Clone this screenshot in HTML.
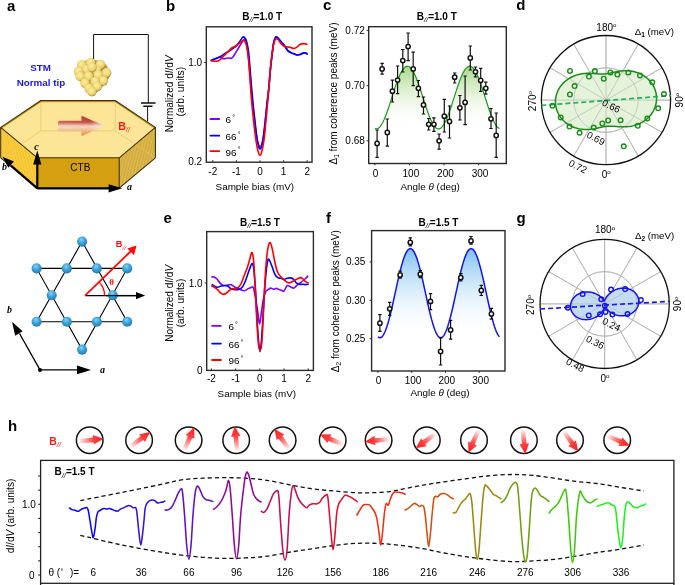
<!DOCTYPE html><html><head><meta charset="utf-8"><style>html,body{margin:0;padding:0;background:#fff;width:685px;height:585px;overflow:hidden}svg{display:block;will-change:transform}text{font-family:"Liberation Sans",sans-serif}</style></head><body>
<svg width="685" height="585" viewBox="0 0 685 585">
<defs>
<radialGradient id="gs" cx="0.45" cy="0.4" r="0.62" fx="0.42" fy="0.36"><stop offset="0" stop-color="#fbeea8"/><stop offset="0.55" stop-color="#f2da78"/><stop offset="0.8" stop-color="#e0c460"/><stop offset="0.93" stop-color="#b09438"/><stop offset="1" stop-color="#5e4812"/></radialGradient>
<radialGradient id="bs" cx="0.45" cy="0.35" r="0.7" fx="0.42" fy="0.3"><stop offset="0" stop-color="#8cd2f6"/><stop offset="0.45" stop-color="#3ea4dc"/><stop offset="0.8" stop-color="#2a88c0"/><stop offset="1" stop-color="#1a6496"/></radialGradient>
<linearGradient id="gfill" x1="0" y1="0" x2="0" y2="1"><stop offset="0" stop-color="#a8d888"/><stop offset="1" stop-color="#ffffff" stop-opacity="0"/></linearGradient>
<linearGradient id="bfill" x1="0" y1="0" x2="0" y2="1"><stop offset="0" stop-color="#7cc0f0"/><stop offset="1" stop-color="#ffffff" stop-opacity="0"/></linearGradient>
<linearGradient id="arr3d" x1="0" y1="0" x2="0" y2="1"><stop offset="0" stop-color="#b83024"/><stop offset="0.32" stop-color="#c85444"/><stop offset="0.48" stop-color="#eac4b8"/><stop offset="0.55" stop-color="#f4d4b8"/><stop offset="0.75" stop-color="#f0b27a"/><stop offset="1" stop-color="#e08a44"/></linearGradient>
<linearGradient id="arrfade" x1="0" y1="0" x2="1" y2="0"><stop offset="0" stop-color="#fff" stop-opacity="0.12"/><stop offset="0.7" stop-color="#fff" stop-opacity="0.0"/><stop offset="1" stop-color="#fce8d8" stop-opacity="0.7"/></linearGradient>
<linearGradient id="redarr" x1="0" y1="0" x2="1" y2="0"><stop offset="0" stop-color="#ff2020" stop-opacity="0"/><stop offset="0.6" stop-color="#ff2020" stop-opacity="0.85"/><stop offset="1" stop-color="#ff1a1a"/></linearGradient>
<pattern id="stripeL" width="2.8" height="4" patternUnits="userSpaceOnUse" patternTransform="rotate(-14)"><rect width="2.8" height="4" fill="#f5c22c"/><rect width="1.3" height="4" fill="#f9cf48"/></pattern>
<pattern id="stripeR" width="2.8" height="4" patternUnits="userSpaceOnUse" patternTransform="rotate(14)"><rect width="2.8" height="4" fill="#ddb94e"/><rect width="1.2" height="4" fill="#cfa83c"/></pattern>
</defs>
<rect width="685" height="585" fill="#fff"/>
<text x="6.9" y="10.6" font-size="15" font-weight="bold" fill="#000">a</text>
<text x="166" y="10.6" font-size="15" font-weight="bold" fill="#000">b</text>
<text x="322.9" y="9.9" font-size="15" font-weight="bold" fill="#000">c</text>
<text x="516.3" y="10.2" font-size="15" font-weight="bold" fill="#000">d</text>
<text x="163.6" y="223.2" font-size="15" font-weight="bold" fill="#000">e</text>
<text x="326.1" y="223.2" font-size="15" font-weight="bold" fill="#000">f</text>
<text x="516.4" y="222.6" font-size="15" font-weight="bold" fill="#000">g</text>
<text x="8" y="430.9" font-size="15" font-weight="bold" fill="#000">h</text>
<text x="40.6" y="70.6" font-size="9.8" font-weight="bold" fill="#1a1ae0" text-anchor="middle">STM</text>
<text x="40.9" y="86.3" font-size="9.8" font-weight="bold" fill="#1a1ae0" text-anchor="middle">Normal tip</text>
<path d="M93.6 63 V34.5 H148.3 V103 M147.6 106.3 V121.5" stroke="#111" stroke-width="1" fill="none"/>
<path d="M141 103 H155.6 M143.3 106.3 H152.5" stroke="#111" stroke-width="1.4" fill="none"/>
<path d="M0.7 127.4 L37.4 157.8 L37.4 188.2 L0.7 157.8Z" fill="url(#stripeL)"/>
<path d="M119.2 157.8 L155.4 127.4 L155.4 157.8 L119.2 188.2Z" fill="url(#stripeR)"/>
<path d="M37.4 157.8 L119.2 157.8 L119.2 188.2 L37.4 188.2Z" fill="#d4a012"/>
<path d="M40.9 100.5 L115.2 100.5 L155.4 127.4 L119.2 157.8 L37.4 157.8 L0.7 127.4Z" fill="#fde597"/>
<path d="M0.7 157.8 L40.9 130.9 L115.2 130.9 L155.4 157.8 M40.9 100.5 L40.9 130.9 M115.2 100.5 L115.2 130.9" stroke="#e2c36a" stroke-width="0.7" fill="none"/>
<path d="M0.7 128.5 L40.9 101.6 L115.2 101.6 L155.4 128.5" stroke="#c09018" stroke-width="1.2" fill="none" stroke-linejoin="round"/>
<path d="M40.9 100.5 L115.2 100.5 L155.4 127.4 L119.2 157.8 L37.4 157.8 L0.7 127.4Z M0.7 127.4 V157.8 M37.4 157.8 V188.2 M119.2 157.8 V188.2 M155.4 127.4 V157.8 M0.7 157.8 L37.4 188.2 L119.2 188.2 L155.4 157.8" stroke="#3a2a00" stroke-width="1.05" fill="none" stroke-linejoin="round"/>
<path d="M59.6 120.8 H81.5 V115.8 L104.5 125.8 L81.5 136.3 V131.3 H59.6 Q58 131.3 58 129.5 V122.6 Q58 120.8 59.6 120.8 Z" fill="url(#arr3d)"/>
<path d="M59.6 120.8 H81.5 V115.8 L104.5 125.8 L81.5 136.3 V131.3 H59.6 Q58 131.3 58 129.5 V122.6 Q58 120.8 59.6 120.8 Z" fill="url(#arrfade)"/>
<text x="118.3" y="129.8" font-size="10.7" font-weight="bold" fill="#ff1a1a">B<tspan font-size="6.8" font-style="italic" font-weight="normal" dy="1.9">//</tspan></text>
<text x="80.3" y="171.1" font-size="10" fill="#000" text-anchor="middle">CTB</text>
<path d="M37.3 188.3 V163" stroke="#000" stroke-width="2.2"/>
<path d="M33.2 164.4 L37.3 150.6 L41.4 164.4 Z" fill="#000"/>
<path d="M37.3 188.3 H110" stroke="#000" stroke-width="2.2"/>
<path d="M108.6 184.2 L122.2 188.3 L108.6 192.4 Z" fill="#000"/>
<path d="M37.3 188.3 L11 165.6" stroke="#000" stroke-width="2.2"/>
<path d="M13.9 161.5 L2.4 156.8 L8.4 167.8 Z" fill="#000"/>
<text x="36.4" y="150" font-size="10" font-style="italic" font-weight="bold" font-family="Liberation Serif, serif" fill="#000" text-anchor="middle" style="font-family:'Liberation Serif',serif">c</text>
<text x="4.6" y="170.2" font-size="10" font-style="italic" font-weight="bold" fill="#000" text-anchor="middle" style="font-family:'Liberation Serif',serif">b</text>
<text x="129.6" y="190" font-size="10" font-style="italic" font-weight="bold" fill="#000" text-anchor="middle" style="font-family:'Liberation Serif',serif">a</text>
<path d="M78 68 L80 63 L86 60.5 L95 60 L103 61.5 L107 66 L110 72 L109 78 L105 84 L100.5 89 L95.5 93.5 L91.5 95.5 L88 92.5 L84 87.5 L80.5 81.5 L77.5 76 Z" fill="#b89a3c"/>
<circle cx="81.6" cy="64.8" r="4.8" fill="url(#gs)"/>
<circle cx="90.6" cy="62.6" r="4.8" fill="url(#gs)"/>
<circle cx="100.5" cy="64.6" r="4.8" fill="url(#gs)"/>
<circle cx="86.5" cy="69.5" r="4.8" fill="url(#gs)"/>
<circle cx="96.5" cy="69.5" r="4.8" fill="url(#gs)"/>
<circle cx="92" cy="67.3" r="4.8" fill="url(#gs)"/>
<circle cx="78.5" cy="71.5" r="4.8" fill="url(#gs)"/>
<circle cx="106.6" cy="72.8" r="4.8" fill="url(#gs)"/>
<circle cx="80.2" cy="76.4" r="4.8" fill="url(#gs)"/>
<circle cx="98.3" cy="75" r="4.8" fill="url(#gs)"/>
<circle cx="88.5" cy="76.2" r="4.8" fill="url(#gs)"/>
<circle cx="103.2" cy="80.8" r="4.8" fill="url(#gs)"/>
<circle cx="85" cy="83" r="4.8" fill="url(#gs)"/>
<circle cx="95.1" cy="81.5" r="4.8" fill="url(#gs)"/>
<circle cx="97.1" cy="86.5" r="4.8" fill="url(#gs)"/>
<circle cx="88.9" cy="88.3" r="4.8" fill="url(#gs)"/>
<circle cx="91.7" cy="91.5" r="4.8" fill="url(#gs)"/>
<path d="M82.1 241.6 L36.6 321.8 L127.2 321.8 Z M36.6 268.4 L127.2 268.4 L82.1 349.6 Z" stroke="#000" stroke-width="1.1" fill="none"/>
<path d="M85 295.6 H137" stroke="#000" stroke-width="1.4"/>
<path d="M136 291.9 L145.2 295.6 L136 299.3 Z" fill="#000"/>
<circle cx="82.1" cy="241.6" r="5.05" fill="url(#bs)"/>
<circle cx="36.6" cy="268.4" r="5.05" fill="url(#bs)"/>
<circle cx="66.8" cy="268.4" r="5.05" fill="url(#bs)"/>
<circle cx="96.8" cy="268.4" r="5.05" fill="url(#bs)"/>
<circle cx="127.2" cy="268.4" r="5.05" fill="url(#bs)"/>
<circle cx="51.7" cy="295.3" r="5.05" fill="url(#bs)"/>
<circle cx="112.8" cy="295.3" r="5.05" fill="url(#bs)"/>
<circle cx="36.6" cy="321.8" r="5.05" fill="url(#bs)"/>
<circle cx="66.8" cy="321.8" r="5.05" fill="url(#bs)"/>
<circle cx="96.8" cy="321.8" r="5.05" fill="url(#bs)"/>
<circle cx="127.2" cy="321.8" r="5.05" fill="url(#bs)"/>
<circle cx="82.1" cy="349.6" r="5.05" fill="url(#bs)"/>
<path d="M106 295.6 H137" stroke="#000" stroke-width="1.4" opacity="0.85"/>
<path d="M85 295.6 L131 251" stroke="#ff0a0a" stroke-width="1.8"/>
<path d="M136.6 245.6 L134 255.3 L127.3 248.4 Z" fill="#ff0a0a"/>
<path d="M104.6 295.6 A19.6 19.6 0 0 0 99.22 282.11" stroke="#ff0a0a" stroke-width="1.4" fill="none"/>
<text x="111.7" y="285" font-size="9" font-weight="bold" fill="#ff0a0a" text-anchor="middle" style="font-family:'Liberation Serif',serif">θ</text>
<text x="115.8" y="247.4" font-size="9.2" font-weight="bold" fill="#ff0a0a">B<tspan font-size="6.2" font-style="italic" font-weight="normal" dy="2.4">//</tspan></text>
<circle cx="40" cy="369.9" r="2" fill="#000"/>
<path d="M40 369.9 H79" stroke="#000" stroke-width="1.3"/>
<path d="M77 365.5 L91 369.9 L77 374.3 Z" fill="#000"/>
<path d="M40 369.9 L19.5 333.5" stroke="#000" stroke-width="1.3"/>
<path d="M12 321.7 L22.6 331.3 L15.2 335.7 Z" fill="#000"/>
<text x="102.6" y="373" font-size="10" font-style="italic" font-weight="bold" fill="#000" text-anchor="middle" style="font-family:'Liberation Serif',serif">a</text>
<text x="9.6" y="313.4" font-size="10" font-style="italic" font-weight="bold" fill="#000" text-anchor="middle" style="font-family:'Liberation Serif',serif">b</text>
<path d="M210.6 60.8 C211.38 60.47 213.82 59.4 215.3 58.8 C216.78 58.2 218.23 57.23 219.5 57.2 C220.77 57.17 221.9 58.38 222.9 58.6 C223.9 58.82 224.55 58.6 225.5 58.5 C226.45 58.4 227.65 58.03 228.6 58 C229.55 57.97 230.43 58.52 231.2 58.3 C231.97 58.08 232.43 57.65 233.2 56.7 C233.97 55.75 234.87 54.13 235.8 52.6 C236.73 51.07 237.78 49.2 238.8 47.5 C239.82 45.8 241.12 43.68 241.9 42.4 C242.68 41.12 243.02 40.15 243.5 39.8 C243.98 39.45 244.33 39.68 244.8 40.3 C245.27 40.92 245.8 41.72 246.3 43.5 C246.8 45.28 247.3 47.25 247.8 51 C248.3 54.75 248.78 60.17 249.3 66 C249.82 71.83 250.35 79.67 250.9 86 C251.45 92.33 252.02 98.42 252.6 104 C253.18 109.58 253.8 114.58 254.4 119.5 C255 124.42 255.6 129.58 256.2 133.5 C256.8 137.42 257.35 140.78 258 143 C258.65 145.22 259.42 146.8 260.1 146.8 C260.78 146.8 261.47 145.22 262.1 143 C262.73 140.78 263.32 137.47 263.9 133.5 C264.48 129.53 265.05 124.28 265.6 119.2 C266.15 114.12 266.65 108.2 267.2 103 C267.75 97.8 268.35 93.67 268.9 88 C269.45 82.33 269.95 74.73 270.5 69 C271.05 63.27 271.65 58.1 272.2 53.6 C272.75 49.1 273.25 44.7 273.8 42 C274.35 39.3 274.95 38.2 275.5 37.4 C276.05 36.6 276.5 36.88 277.1 37.2 C277.7 37.52 278.33 38.43 279.1 39.3 C279.87 40.17 280.77 41.3 281.7 42.4 C282.63 43.5 283.68 44.53 284.7 45.9 C285.72 47.27 286.77 49.48 287.8 50.6 C288.83 51.72 289.87 52.07 290.9 52.6 C291.93 53.13 292.97 53.42 294 53.8 C295.03 54.18 296.08 54.78 297.1 54.9 C298.12 55.02 299.08 54.8 300.1 54.5 C301.12 54.2 302.25 53.33 303.2 53.1 C304.15 52.87 305.07 52.85 305.8 53.1 C306.53 53.35 307.3 54.35 307.6 54.6" stroke="#8000ff" stroke-width="1.6" fill="none" stroke-linejoin="round"/>
<path d="M210.6 60.8 C211.38 60.47 213.67 59.52 215.3 58.8 C216.93 58.08 218.7 57.45 220.4 56.5 C222.1 55.55 223.8 54.17 225.5 53.1 C227.2 52.03 228.88 51.2 230.6 50.1 C232.32 49 234.25 47.97 235.8 46.5 C237.35 45.03 238.7 42.88 239.9 41.3 C241.1 39.72 242.07 37.42 243 37 C243.93 36.58 244.82 37.73 245.5 38.8 C246.18 39.87 246.58 41.2 247.1 43.4 C247.62 45.6 248.1 47.73 248.6 52 C249.1 56.27 249.6 63 250.1 69 C250.6 75 251.08 82 251.6 88 C252.12 94 252.67 99.75 253.2 105 C253.73 110.25 254.25 114.58 254.8 119.5 C255.35 124.42 255.93 130.25 256.5 134.5 C257.07 138.75 257.6 142.6 258.2 145 C258.8 147.4 259.47 148.9 260.1 148.9 C260.73 148.9 261.4 147.4 262 145 C262.6 142.6 263.15 138.75 263.7 134.5 C264.25 130.25 264.75 124.75 265.3 119.5 C265.85 114.25 266.42 108.25 267 103 C267.58 97.75 268.23 93.67 268.8 88 C269.37 82.33 269.83 74.73 270.4 69 C270.97 63.27 271.63 58.1 272.2 53.6 C272.77 49.1 273.25 44.7 273.8 42 C274.35 39.3 274.95 38.2 275.5 37.4 C276.05 36.6 276.5 36.88 277.1 37.2 C277.7 37.52 278.33 38.43 279.1 39.3 C279.87 40.17 280.77 41.3 281.7 42.4 C282.63 43.5 283.68 44.53 284.7 45.9 C285.72 47.27 286.77 49.48 287.8 50.6 C288.83 51.72 289.87 52.07 290.9 52.6 C291.93 53.13 292.97 53.42 294 53.8 C295.03 54.18 296.08 54.78 297.1 54.9 C298.12 55.02 299.08 54.8 300.1 54.5 C301.12 54.2 302.25 53.33 303.2 53.1 C304.15 52.87 305.08 52.87 305.8 53.1 C306.52 53.33 307.22 54.27 307.5 54.5" stroke="#0000ff" stroke-width="1.6" fill="none" stroke-linejoin="round"/>
<path d="M211.2 60.6 C211.53 60.67 212.35 60.88 213.2 61 C214.05 61.12 215.27 61.42 216.3 61.3 C217.33 61.18 218.2 61.15 219.4 60.3 C220.6 59.45 222.13 57.57 223.5 56.2 C224.87 54.83 226.23 53.47 227.6 52.1 C228.97 50.73 230.52 48.93 231.7 48 C232.88 47.07 233.68 47.1 234.7 46.5 C235.72 45.9 236.77 45.12 237.8 44.4 C238.83 43.68 239.9 42.85 240.9 42.2 C241.9 41.55 243.03 40.47 243.8 40.5 C244.57 40.53 244.95 41.07 245.5 42.4 C246.05 43.73 246.58 45.43 247.1 48.5 C247.62 51.57 248.12 55.67 248.6 60.8 C249.08 65.93 249.53 72.98 250 79.3 C250.47 85.62 250.83 92.05 251.4 98.7 C251.97 105.35 252.72 112.83 253.4 119.2 C254.08 125.57 254.8 131.85 255.5 136.9 C256.2 141.95 256.85 146.42 257.6 149.5 C258.35 152.58 259.22 155.4 260 155.4 C260.78 155.4 261.57 152.58 262.3 149.5 C263.03 146.42 263.77 141.95 264.4 136.9 C265.03 131.85 265.5 125.57 266.1 119.2 C266.7 112.83 267.47 104.9 268 98.7 C268.53 92.5 268.88 87.12 269.3 82 C269.72 76.88 270.08 72.33 270.5 68 C270.92 63.67 271.33 59.67 271.8 56 C272.27 52.33 272.8 48.58 273.3 46 C273.8 43.42 274.27 41.7 274.8 40.5 C275.33 39.3 275.87 38.83 276.5 38.8 C277.13 38.77 277.82 39.45 278.6 40.3 C279.38 41.15 280.18 42.87 281.2 43.9 C282.22 44.93 283.6 45.98 284.7 46.5 C285.8 47.02 286.77 46.83 287.8 47 C288.83 47.17 289.87 47.25 290.9 47.5 C291.93 47.75 292.97 48.58 294 48.5 C295.03 48.42 296.08 47.68 297.1 47 C298.12 46.32 299.08 44.97 300.1 44.4 C301.12 43.83 302.33 43.68 303.2 43.6 C304.07 43.52 304.58 43.73 305.3 43.9 C306.02 44.07 307.13 44.48 307.5 44.6" stroke="#ff0000" stroke-width="1.6" fill="none" stroke-linejoin="round"/>
<rect x="206.3" y="26.8" width="105.7" height="135.4" fill="none" stroke="#2a2a2a" stroke-width="1.4"/>
<path d="M212.8 162.2 V160.2" stroke="#2a2a2a" stroke-width="1"/>
<text x="212.8" y="174.7" font-size="10" text-anchor="middle" fill="#000" >-2</text>
<path d="M236.4 162.2 V160.2" stroke="#2a2a2a" stroke-width="1"/>
<text x="236.4" y="174.7" font-size="10" text-anchor="middle" fill="#000" >-1</text>
<path d="M260 162.2 V160.2" stroke="#2a2a2a" stroke-width="1"/>
<text x="260" y="174.7" font-size="10" text-anchor="middle" fill="#000" >0</text>
<path d="M283.6 162.2 V160.2" stroke="#2a2a2a" stroke-width="1"/>
<text x="283.6" y="174.7" font-size="10" text-anchor="middle" fill="#000" >1</text>
<path d="M307.2 162.2 V160.2" stroke="#2a2a2a" stroke-width="1"/>
<text x="307.2" y="174.7" font-size="10" text-anchor="middle" fill="#000" >2</text>
<path d="M204.3 62.5 H206.3" stroke="#2a2a2a" stroke-width="1"/>
<text x="202.2" y="66" font-size="10" text-anchor="end" fill="#000" >1.0</text>
<text x="202.2" y="164.9" font-size="10" text-anchor="end" fill="#000" >0.2</text>
<text x="254.8" y="189.5" font-size="9.9" text-anchor="middle" fill="#000">Sample bias (mV)</text>
<text transform="translate(172.5 93.8) rotate(-90)" font-size="10" text-anchor="middle" fill="#000">Normalized d<tspan font-style="italic">I</tspan>/d<tspan font-style="italic">V</tspan></text>
<text transform="translate(184 91.7) rotate(-90)" font-size="10.4" text-anchor="middle" fill="#000">(arb. units)</text>
<text x="262.2" y="20" font-size="10" font-weight="bold" text-anchor="middle" fill="#000">B<tspan font-size="7.3" font-style="italic" font-weight="normal" dy="2.2">//</tspan><tspan dy="-2.2">=1.0 T</tspan></text>
<path d="M210.4 119 H219.2" stroke="#8000ff" stroke-width="1.8" stroke-linecap="round"/>
<text x="225.6" y="123.4" font-size="9.9" fill="#000">6<tspan font-size="7" dx="1.2" dy="-3.2">°</tspan></text>
<path d="M210.4 135.7 H219.2" stroke="#0000ff" stroke-width="1.8" stroke-linecap="round"/>
<text x="225.6" y="140.1" font-size="9.9" fill="#000">66<tspan font-size="7" dx="1.2" dy="-3.2">°</tspan></text>
<path d="M210.4 151.2 H219.2" stroke="#ff0000" stroke-width="1.8" stroke-linecap="round"/>
<text x="225.6" y="155.6" font-size="9.9" fill="#000">96<tspan font-size="7" dx="1.2" dy="-3.2">°</tspan></text>
<path d="M211.3 277.1 C211.77 277.07 213.15 276.58 214.1 276.9 C215.05 277.22 216.03 278 217 279 C217.97 280 218.93 281.85 219.9 282.9 C220.87 283.95 221.77 284.87 222.8 285.3 C223.83 285.73 225.07 285.58 226.1 285.5 C227.13 285.42 228.12 284.92 229 284.8 C229.88 284.68 230.53 284.48 231.4 284.8 C232.27 285.12 233.25 286.15 234.2 286.7 C235.15 287.25 236.05 287.62 237.1 288.1 C238.15 288.58 239.38 289.15 240.5 289.6 C241.62 290.05 242.85 290.72 243.8 290.8 C244.75 290.88 245.48 290.47 246.2 290.1 C246.92 289.73 247.47 288.97 248.1 288.6 C248.73 288.23 249.32 288.17 250 287.9 C250.68 287.63 251.6 286.95 252.2 287 C252.8 287.05 253.02 286.18 253.6 288.2 C254.18 290.22 255.02 295.2 255.7 299.1 C256.38 303 257.05 307.45 257.7 311.6 C258.35 315.75 258.97 324 259.6 324 C260.23 324 260.87 315.75 261.5 311.6 C262.13 307.45 262.68 302.45 263.4 299.1 C264.12 295.75 265 293.08 265.8 291.5 C266.6 289.92 267.4 290.17 268.2 289.6 C269 289.03 269.72 288.15 270.6 288.1 C271.48 288.05 272.55 289.25 273.5 289.3 C274.45 289.35 275.35 288.35 276.3 288.4 C277.25 288.45 278.32 289.28 279.2 289.6 C280.08 289.92 280.88 290.02 281.6 290.3 C282.32 290.58 282.87 291.58 283.5 291.3 C284.13 291.02 284.77 289.55 285.4 288.6 C286.03 287.65 286.5 285.92 287.3 285.6 C288.1 285.28 289.15 286.28 290.2 286.7 C291.25 287.12 292.63 288.18 293.6 288.1 C294.57 288.02 295.13 286.92 296 286.2 C296.87 285.48 297.68 284.67 298.8 283.8 C299.92 282.93 301.52 281.95 302.7 281 C303.88 280.05 304.97 278.98 305.9 278.1 C306.83 277.22 307.9 276.1 308.3 275.7" stroke="#8000ff" stroke-width="1.6" fill="none" stroke-linejoin="round"/>
<path d="M211.7 284.3 C212.18 284.63 213.63 285.8 214.6 286.3 C215.57 286.8 216.38 287.35 217.5 287.3 C218.62 287.25 220.03 286.3 221.3 286 C222.57 285.7 223.98 285.47 225.1 285.5 C226.22 285.53 227.03 285.68 228 286.2 C228.97 286.72 229.78 288.03 230.9 288.6 C232.02 289.17 233.43 289.43 234.7 289.6 C235.97 289.77 237.22 290.03 238.5 289.6 C239.78 289.17 241.28 288.35 242.4 287 C243.52 285.65 244.25 283.78 245.2 281.5 C246.15 279.22 247.22 275.78 248.1 273.3 C248.98 270.82 249.83 268.28 250.5 266.6 C251.17 264.92 251.62 263.2 252.1 263.2 C252.58 263.2 252.98 264.13 253.4 266.6 C253.82 269.07 254.22 273.6 254.6 278 C254.98 282.4 255.3 286.33 255.7 293 C256.1 299.67 256.53 310.17 257 318 C257.47 325.83 258 334.4 258.5 340 C259 345.6 259.5 351.6 260 351.6 C260.5 351.6 261.02 345.6 261.5 340 C261.98 334.4 262.47 325 262.9 318 C263.33 311 263.72 304 264.1 298 C264.48 292 264.78 287 265.2 282 C265.62 277 266.12 271.77 266.6 268 C267.08 264.23 267.53 260.52 268.1 259.4 C268.67 258.28 269.28 259.95 270 261.3 C270.72 262.65 271.6 265.35 272.4 267.5 C273.2 269.65 273.93 272.52 274.8 274.2 C275.67 275.88 276.57 276.92 277.6 277.6 C278.63 278.28 279.97 278.02 281 278.3 C282.03 278.58 282.85 279.28 283.8 279.3 C284.75 279.32 285.58 278.63 286.7 278.4 C287.82 278.17 289.3 277.72 290.5 277.9 C291.7 278.08 292.93 278.67 293.9 279.5 C294.87 280.33 295.42 282.1 296.3 282.9 C297.18 283.7 298.08 284.07 299.2 284.3 C300.32 284.53 301.88 284.25 303 284.3 C304.12 284.35 304.95 284.63 305.9 284.6 C306.85 284.57 308.23 284.18 308.7 284.1" stroke="#0000ff" stroke-width="1.6" fill="none" stroke-linejoin="round"/>
<path d="M211.3 285.7 C211.85 286 213.57 286.85 214.6 287.5 C215.63 288.15 216.53 288.7 217.5 289.6 C218.47 290.5 219.37 292.1 220.4 292.9 C221.43 293.7 222.67 294.4 223.7 294.4 C224.73 294.4 225.63 293.58 226.6 292.9 C227.57 292.22 228.55 290.98 229.5 290.3 C230.45 289.62 231.27 289.03 232.3 288.8 C233.33 288.57 234.67 289.15 235.7 288.9 C236.73 288.65 237.55 288.28 238.5 287.3 C239.45 286.32 240.43 285.02 241.4 283 C242.37 280.98 243.33 277.7 244.3 275.2 C245.27 272.7 246.32 270.55 247.2 268 C248.08 265.45 248.88 262.45 249.6 259.9 C250.32 257.35 250.95 253.43 251.5 252.7 C252.05 251.97 252.5 253.62 252.9 255.5 C253.3 257.38 253.58 259.92 253.9 264 C254.22 268.08 254.48 274 254.8 280 C255.12 286 255.45 293 255.8 300 C256.15 307 256.48 314.83 256.9 322 C257.32 329.17 257.77 338.23 258.3 343 C258.83 347.77 259.52 350.6 260.1 350.6 C260.68 350.6 261.32 347.77 261.8 343 C262.28 338.23 262.63 329.17 263 322 C263.37 314.83 263.68 306.67 264 300 C264.32 293.33 264.55 288 264.9 282 C265.25 276 265.65 269.33 266.1 264 C266.55 258.67 267.03 253.55 267.6 250 C268.17 246.45 268.87 243.45 269.5 242.7 C270.13 241.95 270.77 243.6 271.4 245.5 C272.03 247.4 272.67 251.07 273.3 254.1 C273.93 257.13 274.48 260.67 275.2 263.7 C275.92 266.73 276.63 270.07 277.6 272.3 C278.57 274.53 279.8 275.73 281 277.1 C282.2 278.47 283.45 279.53 284.8 280.5 C286.15 281.47 287.67 282.82 289.1 282.9 C290.53 282.98 292.05 281.65 293.4 281 C294.75 280.35 296 279.57 297.2 279 C298.4 278.43 299.63 277.6 300.6 277.6 C301.57 277.6 302.12 278.28 303 279 C303.88 279.72 304.95 281.18 305.9 281.9 C306.85 282.62 308.23 283.07 308.7 283.3" stroke="#ff0000" stroke-width="1.6" fill="none" stroke-linejoin="round"/>
<rect x="206.7" y="231.6" width="106.7" height="138.8" fill="none" stroke="#2a2a2a" stroke-width="1.4"/>
<path d="M211.4 370.4 V368.4" stroke="#2a2a2a" stroke-width="1"/>
<text x="211.4" y="381.7" font-size="10" text-anchor="middle" fill="#000" >-2</text>
<path d="M235.6 370.4 V368.4" stroke="#2a2a2a" stroke-width="1"/>
<text x="235.6" y="381.7" font-size="10" text-anchor="middle" fill="#000" >-1</text>
<path d="M259.8 370.4 V368.4" stroke="#2a2a2a" stroke-width="1"/>
<text x="259.8" y="381.7" font-size="10" text-anchor="middle" fill="#000" >0</text>
<path d="M284 370.4 V368.4" stroke="#2a2a2a" stroke-width="1"/>
<text x="284" y="381.7" font-size="10" text-anchor="middle" fill="#000" >1</text>
<path d="M308.2 370.4 V368.4" stroke="#2a2a2a" stroke-width="1"/>
<text x="308.2" y="381.7" font-size="10" text-anchor="middle" fill="#000" >2</text>
<path d="M204.7 283 H206.7" stroke="#2a2a2a" stroke-width="1"/>
<text x="202.6" y="286.5" font-size="10" text-anchor="end" fill="#000" >1.0</text>
<text x="202.6" y="373.5" font-size="10" text-anchor="end" fill="#000" >0</text>
<text x="256.8" y="396.6" font-size="9.9" text-anchor="middle" fill="#000">Sample bias (mV)</text>
<text transform="translate(172.5 303.3) rotate(-90)" font-size="10" text-anchor="middle" fill="#000">Normalized d<tspan font-style="italic">I</tspan>/d<tspan font-style="italic">V</tspan></text>
<text transform="translate(183.6 303) rotate(-90)" font-size="10.2" text-anchor="middle" fill="#000">(arb. units)</text>
<text x="259.9" y="226" font-size="10" font-weight="bold" text-anchor="middle" fill="#000">B<tspan font-size="7.3" font-style="italic" font-weight="normal" dy="2.2">//</tspan><tspan dy="-2.2">=1.5 T</tspan></text>
<path d="M212.1 325.8 H220.9" stroke="#8000ff" stroke-width="1.8" stroke-linecap="round"/>
<text x="228.4" y="330.2" font-size="9.9" fill="#000">6<tspan font-size="7" dx="1.2" dy="-3.2">°</tspan></text>
<path d="M212.1 343.6 H220.9" stroke="#0000ff" stroke-width="1.8" stroke-linecap="round"/>
<text x="228.4" y="348" font-size="9.9" fill="#000">66<tspan font-size="7" dx="1.2" dy="-3.2">°</tspan></text>
<path d="M212.1 360 H220.9" stroke="#ff0000" stroke-width="1.8" stroke-linecap="round"/>
<text x="228.4" y="364.4" font-size="9.9" fill="#000">96<tspan font-size="7" dx="1.2" dy="-3.2">°</tspan></text>
<path d="M374.9 129.5 L374.9 128.59 L375.94 128.88 L376.97 128.82 L378.01 128.42 L379.05 127.69 L380.09 126.62 L381.12 125.23 L382.16 123.54 L383.2 121.57 L384.24 119.33 L385.27 116.85 L386.31 114.16 L387.35 111.29 L388.39 108.27 L389.42 105.13 L390.46 101.91 L391.5 98.64 L392.54 95.36 L393.57 92.11 L394.61 88.91 L395.65 85.81 L396.69 82.83 L397.72 80.02 L398.76 77.4 L399.8 75 L400.83 72.85 L401.87 70.96 L402.91 69.37 L403.95 68.09 L404.98 67.13 L406.02 66.51 L407.06 66.22 L408.1 66.28 L409.13 66.68 L410.17 67.41 L411.21 68.48 L412.25 69.87 L413.28 71.56 L414.32 73.53 L415.36 75.77 L416.4 78.25 L417.43 80.94 L418.47 83.81 L419.51 86.83 L420.55 89.97 L421.58 93.19 L422.62 96.46 L423.66 99.74 L424.7 102.99 L425.73 106.19 L426.77 109.29 L427.81 112.27 L428.84 115.08 L429.88 117.7 L430.92 120.1 L431.96 122.25 L432.99 124.14 L434.03 125.73 L435.07 127.01 L436.11 127.97 L437.14 128.59 L438.18 128.88 L439.22 128.82 L440.26 128.42 L441.29 127.69 L442.33 126.62 L443.37 125.23 L444.41 123.54 L445.44 121.57 L446.48 119.33 L447.52 116.85 L448.56 114.16 L449.59 111.29 L450.63 108.27 L451.67 105.13 L452.7 101.91 L453.74 98.64 L454.78 95.36 L455.82 92.11 L456.85 88.91 L457.89 85.81 L458.93 82.83 L459.97 80.02 L461 77.4 L462.04 75 L463.08 72.85 L464.12 70.96 L465.15 69.37 L466.19 68.09 L467.23 67.13 L468.27 66.51 L469.3 66.22 L470.34 66.28 L471.38 66.68 L472.42 67.41 L473.45 68.48 L474.49 69.87 L475.53 71.56 L476.57 73.53 L477.6 75.77 L478.64 78.25 L479.68 80.94 L480.71 83.81 L481.75 86.83 L482.79 89.97 L483.83 93.19 L484.86 96.46 L485.9 99.74 L486.94 102.99 L487.98 106.19 L489.01 109.29 L490.05 112.27 L491.09 115.08 L492.13 117.7 L493.16 120.1 L494.2 122.25 L495.24 124.14 L496.28 125.73 L497.31 127.01 L498.35 127.97 L499.39 128.59 L499.39 129.5Z" fill="url(#gfill)"/>
<path d="M374.9 128.59 L375.94 128.88 L376.97 128.82 L378.01 128.42 L379.05 127.69 L380.09 126.62 L381.12 125.23 L382.16 123.54 L383.2 121.57 L384.24 119.33 L385.27 116.85 L386.31 114.16 L387.35 111.29 L388.39 108.27 L389.42 105.13 L390.46 101.91 L391.5 98.64 L392.54 95.36 L393.57 92.11 L394.61 88.91 L395.65 85.81 L396.69 82.83 L397.72 80.02 L398.76 77.4 L399.8 75 L400.83 72.85 L401.87 70.96 L402.91 69.37 L403.95 68.09 L404.98 67.13 L406.02 66.51 L407.06 66.22 L408.1 66.28 L409.13 66.68 L410.17 67.41 L411.21 68.48 L412.25 69.87 L413.28 71.56 L414.32 73.53 L415.36 75.77 L416.4 78.25 L417.43 80.94 L418.47 83.81 L419.51 86.83 L420.55 89.97 L421.58 93.19 L422.62 96.46 L423.66 99.74 L424.7 102.99 L425.73 106.19 L426.77 109.29 L427.81 112.27 L428.84 115.08 L429.88 117.7 L430.92 120.1 L431.96 122.25 L432.99 124.14 L434.03 125.73 L435.07 127.01 L436.11 127.97 L437.14 128.59 L438.18 128.88 L439.22 128.82 L440.26 128.42 L441.29 127.69 L442.33 126.62 L443.37 125.23 L444.41 123.54 L445.44 121.57 L446.48 119.33 L447.52 116.85 L448.56 114.16 L449.59 111.29 L450.63 108.27 L451.67 105.13 L452.7 101.91 L453.74 98.64 L454.78 95.36 L455.82 92.11 L456.85 88.91 L457.89 85.81 L458.93 82.83 L459.97 80.02 L461 77.4 L462.04 75 L463.08 72.85 L464.12 70.96 L465.15 69.37 L466.19 68.09 L467.23 67.13 L468.27 66.51 L469.3 66.22 L470.34 66.28 L471.38 66.68 L472.42 67.41 L473.45 68.48 L474.49 69.87 L475.53 71.56 L476.57 73.53 L477.6 75.77 L478.64 78.25 L479.68 80.94 L480.71 83.81 L481.75 86.83 L482.79 89.97 L483.83 93.19 L484.86 96.46 L485.9 99.74 L486.94 102.99 L487.98 106.19 L489.01 109.29 L490.05 112.27 L491.09 115.08 L492.13 117.7 L493.16 120.1 L494.2 122.25 L495.24 124.14 L496.28 125.73 L497.31 127.01 L498.35 127.97 L499.39 128.59" stroke="#1e9a1e" stroke-width="1.2" fill="none"/>
<path d="M377.1 130 V141.35 M375.4 130 H378.8 M377.1 145.65 V157.3 M375.4 157.3 H378.8 M382.1 63.4 V66.85 M380.4 63.4 H383.8 M382.1 71.15 V74.2 M380.4 74.2 H383.8 M387.3 119 V130.35 M385.6 119 H389 M387.3 134.65 V146.2 M385.6 146.2 H389 M392.4 80.1 V89.05 M390.7 80.1 H394.1 M392.4 93.35 V102 M390.7 102 H394.1 M397.6 66 V77.95 M395.9 66 H399.3 M397.6 82.25 V93.6 M395.9 93.6 H399.3 M402.8 49.5 V58.45 M401.1 49.5 H404.5 M402.8 62.75 V72 M401.1 72 H404.5 M408.1 33 V44.45 M406.4 33 H409.8 M408.1 48.75 V60.6 M406.4 60.6 H409.8 M413.2 52.2 V66.75 M411.5 52.2 H414.9 M413.2 71.05 V85.7 M411.5 85.7 H414.9 M418.4 80.5 V86.15 M416.7 80.5 H420.1 M418.4 90.45 V96.6 M416.7 96.6 H420.1 M423.5 97 V102.85 M421.8 97 H425.2 M423.5 107.15 V114 M421.8 114 H425.2 M428.7 118.5 V122.15 M427 118.5 H430.4 M428.7 126.45 V130 M427 130 H430.4 M433.9 117.8 V122.15 M432.2 117.8 H435.6 M433.9 126.45 V131.3 M432.2 131.3 H435.6 M439.1 134 V138.65 M437.4 134 H440.8 M439.1 142.95 V149.2 M437.4 149.2 H440.8 M444.3 99.3 V114.05 M442.6 99.3 H446 M444.3 118.35 V132 M442.6 132 H446 M449.5 106 V119.35 M447.8 106 H451.2 M449.5 123.65 V138 M447.8 138 H451.2 M454.7 73 V75.05 M453 73 H456.4 M454.7 79.35 V83 M453 83 H456.4 M459.9 95.5 V105.65 M458.2 95.5 H461.6 M459.9 109.95 V120 M458.2 120 H461.6 M465.1 76 V100.25 M463.4 76 H466.8 M465.1 104.55 V124.6 M463.4 124.6 H466.8 M470.3 46 V55.85 M468.6 46 H472 M470.3 60.15 V70 M468.6 70 H472 M475.5 67 V69.65 M473.8 67 H477.2 M475.5 73.95 V76.8 M473.8 76.8 H477.2 M480.7 68.4 V78.25 M479 68.4 H482.4 M480.7 82.55 V91.4 M479 91.4 H482.4 M485.8 82.2 V86.15 M484.1 82.2 H487.5 M485.8 90.45 V94.2 M484.1 94.2 H487.5 M491 108.5 V116.65 M489.3 108.5 H492.7 M491 120.95 V128.5 M489.3 128.5 H492.7 M496.2 113 V133.35 M494.5 113 H497.9 M496.2 137.65 V157.3 M494.5 157.3 H497.9 " stroke="#111" stroke-width="1.2" fill="none"/>
<circle cx="377.1" cy="143.5" r="2.15" fill="#fff" stroke="#111" stroke-width="1.5"/>
<circle cx="382.1" cy="69" r="2.15" fill="#fff" stroke="#111" stroke-width="1.5"/>
<circle cx="387.3" cy="132.5" r="2.15" fill="#fff" stroke="#111" stroke-width="1.5"/>
<circle cx="392.4" cy="91.2" r="2.15" fill="#fff" stroke="#111" stroke-width="1.5"/>
<circle cx="397.6" cy="80.1" r="2.15" fill="#fff" stroke="#111" stroke-width="1.5"/>
<circle cx="402.8" cy="60.6" r="2.15" fill="#fff" stroke="#111" stroke-width="1.5"/>
<circle cx="408.1" cy="46.6" r="2.15" fill="#fff" stroke="#111" stroke-width="1.5"/>
<circle cx="413.2" cy="68.9" r="2.15" fill="#fff" stroke="#111" stroke-width="1.5"/>
<circle cx="418.4" cy="88.3" r="2.15" fill="#fff" stroke="#111" stroke-width="1.5"/>
<circle cx="423.5" cy="105" r="2.15" fill="#fff" stroke="#111" stroke-width="1.5"/>
<circle cx="428.7" cy="124.3" r="2.15" fill="#fff" stroke="#111" stroke-width="1.5"/>
<circle cx="433.9" cy="124.3" r="2.15" fill="#fff" stroke="#111" stroke-width="1.5"/>
<circle cx="439.1" cy="140.8" r="2.15" fill="#fff" stroke="#111" stroke-width="1.5"/>
<circle cx="444.3" cy="116.2" r="2.15" fill="#fff" stroke="#111" stroke-width="1.5"/>
<circle cx="449.5" cy="121.5" r="2.15" fill="#fff" stroke="#111" stroke-width="1.5"/>
<circle cx="454.7" cy="77.2" r="2.15" fill="#fff" stroke="#111" stroke-width="1.5"/>
<circle cx="459.9" cy="107.8" r="2.15" fill="#fff" stroke="#111" stroke-width="1.5"/>
<circle cx="465.1" cy="102.4" r="2.15" fill="#fff" stroke="#111" stroke-width="1.5"/>
<circle cx="470.3" cy="58" r="2.15" fill="#fff" stroke="#111" stroke-width="1.5"/>
<circle cx="475.5" cy="71.8" r="2.15" fill="#fff" stroke="#111" stroke-width="1.5"/>
<circle cx="480.7" cy="80.4" r="2.15" fill="#fff" stroke="#111" stroke-width="1.5"/>
<circle cx="485.8" cy="88.3" r="2.15" fill="#fff" stroke="#111" stroke-width="1.5"/>
<circle cx="491" cy="118.8" r="2.15" fill="#fff" stroke="#111" stroke-width="1.5"/>
<circle cx="496.2" cy="135.5" r="2.15" fill="#fff" stroke="#111" stroke-width="1.5"/>
<rect x="368.7" y="26.7" width="137.6" height="136.8" fill="none" stroke="#2a2a2a" stroke-width="1.4"/>
<path d="M366.7 30.4 H368.7" stroke="#2a2a2a" stroke-width="1"/>
<text x="364.8" y="33.8" font-size="10" text-anchor="end" fill="#000" >0.72</text>
<path d="M366.7 85.6 H368.7" stroke="#2a2a2a" stroke-width="1"/>
<text x="364.8" y="89" font-size="10" text-anchor="end" fill="#000" >0.70</text>
<path d="M366.7 140.8 H368.7" stroke="#2a2a2a" stroke-width="1"/>
<text x="364.8" y="144.2" font-size="10" text-anchor="end" fill="#000" >0.68</text>
<path d="M374.9 163.5 V165.3" stroke="#2a2a2a" stroke-width="1"/>
<text x="375.5" y="176.6" font-size="10" text-anchor="middle" fill="#000" >0</text>
<path d="M409.48 163.5 V165.3" stroke="#2a2a2a" stroke-width="1"/>
<text x="410.88" y="176.6" font-size="10" text-anchor="middle" fill="#000" >100</text>
<path d="M444.06 163.5 V165.3" stroke="#2a2a2a" stroke-width="1"/>
<text x="445.46" y="176.6" font-size="10" text-anchor="middle" fill="#000" >200</text>
<path d="M478.64 163.5 V165.3" stroke="#2a2a2a" stroke-width="1"/>
<text x="480.04" y="176.6" font-size="10" text-anchor="middle" fill="#000" >300</text>
<text x="430.1" y="189.8" font-size="9.9" text-anchor="middle" fill="#000">Angle <tspan font-style="italic">θ</tspan> (deg)</text>
<text transform="translate(337.2 93.5) rotate(-90)" font-size="10" text-anchor="middle" fill="#000">Δ<tspan font-size="6.5" dy="2">1</tspan><tspan dy="-2"> from coherence peaks (meV)</tspan></text>
<text x="436.8" y="19.9" font-size="10" font-weight="bold" text-anchor="middle" fill="#000">B<tspan font-size="7.3" font-style="italic" font-weight="normal" dy="2.2">//</tspan><tspan dy="-2.2">=1.0 T</tspan></text>
<path d="M377.9 338 L377.9 336.83 L378.91 337.56 L379.93 337.8 L380.94 337.56 L381.95 336.83 L382.97 335.62 L383.98 333.94 L384.99 331.82 L386 329.28 L387.02 326.34 L388.03 323.04 L389.04 319.42 L390.06 315.5 L391.07 311.34 L392.08 306.98 L393.1 302.47 L394.11 297.86 L395.12 293.2 L396.14 288.54 L397.15 283.93 L398.16 279.42 L399.18 275.06 L400.19 270.9 L401.2 266.98 L402.21 263.36 L403.23 260.06 L404.24 257.12 L405.25 254.58 L406.27 252.46 L407.28 250.78 L408.29 249.57 L409.31 248.84 L410.32 248.6 L411.33 248.84 L412.35 249.57 L413.36 250.78 L414.37 252.46 L415.38 254.58 L416.4 257.12 L417.41 260.06 L418.42 263.36 L419.44 266.98 L420.45 270.9 L421.46 275.06 L422.48 279.42 L423.49 283.93 L424.5 288.54 L425.52 293.2 L426.53 297.86 L427.54 302.47 L428.55 306.98 L429.57 311.34 L430.58 315.5 L431.59 319.42 L432.61 323.04 L433.62 326.34 L434.63 329.28 L435.65 331.82 L436.66 333.94 L437.67 335.62 L438.69 336.83 L439.7 337.56 L440.71 337.8 L441.73 337.56 L442.74 336.83 L443.75 335.62 L444.76 333.94 L445.78 331.82 L446.79 329.28 L447.8 326.34 L448.82 323.04 L449.83 319.42 L450.84 315.5 L451.86 311.34 L452.87 306.98 L453.88 302.47 L454.9 297.86 L455.91 293.2 L456.92 288.54 L457.93 283.93 L458.95 279.42 L459.96 275.06 L460.97 270.9 L461.99 266.98 L463 263.36 L464.01 260.06 L465.03 257.12 L466.04 254.58 L467.05 252.46 L468.07 250.78 L469.08 249.57 L470.09 248.84 L471.11 248.6 L472.12 248.84 L473.13 249.57 L474.14 250.78 L475.16 252.46 L476.17 254.58 L477.18 257.12 L478.2 260.06 L479.21 263.36 L480.22 266.98 L481.24 270.9 L482.25 275.06 L483.26 279.42 L484.28 283.93 L485.29 288.54 L486.3 293.2 L487.31 297.86 L488.33 302.47 L489.34 306.98 L490.35 311.34 L491.37 315.5 L492.38 319.42 L493.39 323.04 L494.41 326.34 L495.42 329.28 L496.43 331.82 L497.45 333.94 L498.46 335.62 L499.47 336.83 L499.47 338Z" fill="url(#bfill)"/>
<path d="M377.9 336.83 L378.91 337.56 L379.93 337.8 L380.94 337.56 L381.95 336.83 L382.97 335.62 L383.98 333.94 L384.99 331.82 L386 329.28 L387.02 326.34 L388.03 323.04 L389.04 319.42 L390.06 315.5 L391.07 311.34 L392.08 306.98 L393.1 302.47 L394.11 297.86 L395.12 293.2 L396.14 288.54 L397.15 283.93 L398.16 279.42 L399.18 275.06 L400.19 270.9 L401.2 266.98 L402.21 263.36 L403.23 260.06 L404.24 257.12 L405.25 254.58 L406.27 252.46 L407.28 250.78 L408.29 249.57 L409.31 248.84 L410.32 248.6 L411.33 248.84 L412.35 249.57 L413.36 250.78 L414.37 252.46 L415.38 254.58 L416.4 257.12 L417.41 260.06 L418.42 263.36 L419.44 266.98 L420.45 270.9 L421.46 275.06 L422.48 279.42 L423.49 283.93 L424.5 288.54 L425.52 293.2 L426.53 297.86 L427.54 302.47 L428.55 306.98 L429.57 311.34 L430.58 315.5 L431.59 319.42 L432.61 323.04 L433.62 326.34 L434.63 329.28 L435.65 331.82 L436.66 333.94 L437.67 335.62 L438.69 336.83 L439.7 337.56 L440.71 337.8 L441.73 337.56 L442.74 336.83 L443.75 335.62 L444.76 333.94 L445.78 331.82 L446.79 329.28 L447.8 326.34 L448.82 323.04 L449.83 319.42 L450.84 315.5 L451.86 311.34 L452.87 306.98 L453.88 302.47 L454.9 297.86 L455.91 293.2 L456.92 288.54 L457.93 283.93 L458.95 279.42 L459.96 275.06 L460.97 270.9 L461.99 266.98 L463 263.36 L464.01 260.06 L465.03 257.12 L466.04 254.58 L467.05 252.46 L468.07 250.78 L469.08 249.57 L470.09 248.84 L471.11 248.6 L472.12 248.84 L473.13 249.57 L474.14 250.78 L475.16 252.46 L476.17 254.58 L477.18 257.12 L478.2 260.06 L479.21 263.36 L480.22 266.98 L481.24 270.9 L482.25 275.06 L483.26 279.42 L484.28 283.93 L485.29 288.54 L486.3 293.2 L487.31 297.86 L488.33 302.47 L489.34 306.98 L490.35 311.34 L491.37 315.5 L492.38 319.42 L493.39 323.04 L494.41 326.34 L495.42 329.28 L496.43 331.82 L497.45 333.94 L498.46 335.62 L499.47 336.83" stroke="#1414f0" stroke-width="1.5" fill="none"/>
<path d="M379.9 314.7 V321.05 M378.2 314.7 H381.6 M379.9 325.35 V331.4 M378.2 331.4 H381.6 M389.7 302.4 V306.65 M388 302.4 H391.4 M389.7 310.95 V315.3 M388 315.3 H391.4 M400.1 271.2 V272.85 M398.4 271.2 H401.8 M400.1 277.15 V278.1 M398.4 278.1 H401.8 M410.3 237.8 V240.25 M408.6 237.8 H412 M410.3 244.55 V245.9 M408.6 245.9 H412 M420.3 270.6 V272.05 M418.6 270.6 H422 M420.3 276.35 V277.6 M418.6 277.6 H422 M430.5 293.7 V299.25 M428.8 293.7 H432.2 M430.5 303.55 V309.6 M428.8 309.6 H432.2 M440.6 337.8 V349.35 M438.9 337.8 H442.3 M440.6 353.65 V365 M438.9 365 H442.3 M450.6 320.4 V327.85 M448.9 320.4 H452.3 M450.6 332.15 V339.1 M448.9 339.1 H452.3 M460.8 273.7 V275.45 M459.1 273.7 H462.5 M460.8 279.75 V280.9 M459.1 280.9 H462.5 M471 236.5 V238.75 M469.3 236.5 H472.7 M471 243.05 V244.2 M469.3 244.2 H472.7 M481.3 285.3 V288.25 M479.6 285.3 H483 M481.3 292.55 V295.5 M479.6 295.5 H483 M491.4 308.3 V311.85 M489.7 308.3 H493.1 M491.4 316.15 V319.1 M489.7 319.1 H493.1 " stroke="#111" stroke-width="1.2" fill="none"/>
<circle cx="379.9" cy="323.2" r="2.15" fill="#fff" stroke="#111" stroke-width="1.5"/>
<circle cx="389.7" cy="308.8" r="2.15" fill="#fff" stroke="#111" stroke-width="1.5"/>
<circle cx="400.1" cy="275" r="2.15" fill="#fff" stroke="#111" stroke-width="1.5"/>
<circle cx="410.3" cy="242.4" r="2.15" fill="#fff" stroke="#111" stroke-width="1.5"/>
<circle cx="420.3" cy="274.2" r="2.15" fill="#fff" stroke="#111" stroke-width="1.5"/>
<circle cx="430.5" cy="301.4" r="2.15" fill="#fff" stroke="#111" stroke-width="1.5"/>
<circle cx="440.6" cy="351.5" r="2.15" fill="#fff" stroke="#111" stroke-width="1.5"/>
<circle cx="450.6" cy="330" r="2.15" fill="#fff" stroke="#111" stroke-width="1.5"/>
<circle cx="460.8" cy="277.6" r="2.15" fill="#fff" stroke="#111" stroke-width="1.5"/>
<circle cx="471" cy="240.9" r="2.15" fill="#fff" stroke="#111" stroke-width="1.5"/>
<circle cx="481.3" cy="290.4" r="2.15" fill="#fff" stroke="#111" stroke-width="1.5"/>
<circle cx="491.4" cy="314" r="2.15" fill="#fff" stroke="#111" stroke-width="1.5"/>
<rect x="371.6" y="230.6" width="133.4" height="140.4" fill="none" stroke="#2a2a2a" stroke-width="1.4"/>
<path d="M369.6 261.9 H371.6" stroke="#2a2a2a" stroke-width="1"/>
<text x="365.4" y="265.3" font-size="10" text-anchor="end" fill="#000" >0.35</text>
<path d="M369.6 300.3 H371.6" stroke="#2a2a2a" stroke-width="1"/>
<text x="365.4" y="303.7" font-size="10" text-anchor="end" fill="#000" >0.30</text>
<path d="M369.6 338.7 H371.6" stroke="#2a2a2a" stroke-width="1"/>
<text x="365.4" y="342.1" font-size="10" text-anchor="end" fill="#000" >0.25</text>
<path d="M377.9 371 V372.8" stroke="#2a2a2a" stroke-width="1"/>
<text x="378.5" y="383.6" font-size="10" text-anchor="middle" fill="#000" >0</text>
<path d="M411.67 371 V372.8" stroke="#2a2a2a" stroke-width="1"/>
<text x="413.07" y="383.6" font-size="10" text-anchor="middle" fill="#000" >100</text>
<path d="M445.44 371 V372.8" stroke="#2a2a2a" stroke-width="1"/>
<text x="446.84" y="383.6" font-size="10" text-anchor="middle" fill="#000" >200</text>
<path d="M479.21 371 V372.8" stroke="#2a2a2a" stroke-width="1"/>
<text x="480.61" y="383.6" font-size="10" text-anchor="middle" fill="#000" >300</text>
<text x="440" y="396" font-size="9.9" text-anchor="middle" fill="#000">Angle <tspan font-style="italic">θ</tspan> (deg)</text>
<text transform="translate(339.2 301.2) rotate(-90)" font-size="10" text-anchor="middle" fill="#000">Δ<tspan font-size="6.5" dy="2">2</tspan><tspan dy="-2"> from coherence peaks (meV)</tspan></text>
<text x="438.5" y="225.6" font-size="10" font-weight="bold" text-anchor="middle" fill="#000">B<tspan font-size="7.3" font-style="italic" font-weight="normal" dy="2.2">//</tspan><tspan dy="-2.2">=1.5 T</tspan></text>
<path d="M606 100.1 L606 164.7 M606 100.1 L638.3 156.05 M606 100.1 L661.95 132.4 M606 100.1 L670.6 100.1 M606 100.1 L661.95 67.8 M606 100.1 L638.3 44.15 M606 100.1 L606 35.5 M606 100.1 L573.7 44.15 M606 100.1 L550.05 67.8 M606 100.1 L541.4 100.1 M606 100.1 L550.05 132.4 M606 100.1 L573.7 156.05 " stroke="#b4b4b4" stroke-width="0.9" fill="none"/>
<circle cx="606" cy="100.1" r="32.3" stroke="#b4b4b4" stroke-width="0.9" fill="none"/>
<path d="M606 126.39 L606.91 126.29 L607.83 126.21 L608.74 126.16 L609.66 126.14 L610.59 126.14 L611.54 126.17 L612.51 126.21 L613.51 126.28 L614.53 126.36 L615.59 126.44 L616.68 126.54 L617.81 126.63 L618.98 126.71 L620.19 126.78 L621.44 126.84 L622.73 126.87 L624.06 126.87 L625.42 126.83 L626.82 126.75 L628.26 126.62 L629.72 126.44 L631.2 126.2 L632.71 125.89 L634.22 125.51 L635.75 125.06 L637.27 124.53 L638.79 123.92 L640.29 123.23 L641.77 122.45 L643.23 121.59 L644.64 120.65 L646.01 119.62 L647.33 118.5 L648.59 117.31 L649.78 116.03 L650.89 114.69 L651.92 113.27 L652.86 111.78 L653.71 110.24 L654.46 108.64 L655.09 107 L655.62 105.32 L656.04 103.6 L656.34 101.86 L656.52 100.1 L656.57 98.33 L656.51 96.57 L656.33 94.81 L656.02 93.07 L655.6 91.35 L655.06 89.67 L654.41 88.03 L653.66 86.43 L652.79 84.9 L651.83 83.42 L650.78 82.01 L649.64 80.67 L648.43 79.41 L647.13 78.23 L645.78 77.13 L644.37 76.12 L642.91 75.2 L641.41 74.37 L639.87 73.64 L638.31 72.98 L636.74 72.42 L635.15 71.95 L633.57 71.55 L631.98 71.24 L630.41 71.01 L628.86 70.84 L627.33 70.75 L625.82 70.71 L624.35 70.74 L622.91 70.81 L621.51 70.92 L620.16 71.08 L618.84 71.26 L617.57 71.47 L616.34 71.7 L615.15 71.94 L614 72.19 L612.9 72.44 L611.83 72.68 L610.79 72.91 L609.79 73.13 L608.81 73.33 L607.86 73.52 L606.92 73.67 L606 73.81 L605.09 73.91 L604.17 73.99 L603.26 74.04 L602.34 74.06 L601.41 74.06 L600.46 74.03 L599.49 73.99 L598.49 73.92 L597.47 73.84 L596.41 73.76 L595.32 73.66 L594.19 73.57 L593.02 73.49 L591.81 73.42 L590.56 73.36 L589.27 73.33 L587.94 73.33 L586.58 73.37 L585.18 73.45 L583.74 73.58 L582.28 73.76 L580.8 74 L579.29 74.31 L577.78 74.69 L576.25 75.14 L574.73 75.67 L573.21 76.28 L571.71 76.97 L570.23 77.75 L568.77 78.61 L567.36 79.55 L565.99 80.58 L564.67 81.7 L563.41 82.89 L562.22 84.17 L561.11 85.51 L560.08 86.93 L559.14 88.42 L558.29 89.96 L557.54 91.56 L556.91 93.2 L556.38 94.88 L555.96 96.6 L555.66 98.34 L555.48 100.1 L555.43 101.87 L555.49 103.63 L555.67 105.39 L555.98 107.13 L556.4 108.85 L556.94 110.53 L557.59 112.17 L558.34 113.77 L559.21 115.3 L560.17 116.78 L561.22 118.19 L562.36 119.53 L563.57 120.79 L564.87 121.97 L566.22 123.07 L567.63 124.08 L569.09 125 L570.59 125.83 L572.13 126.56 L573.69 127.22 L575.26 127.78 L576.85 128.25 L578.43 128.65 L580.02 128.96 L581.59 129.19 L583.14 129.36 L584.67 129.45 L586.18 129.49 L587.65 129.46 L589.09 129.39 L590.49 129.28 L591.84 129.12 L593.16 128.94 L594.43 128.73 L595.66 128.5 L596.85 128.26 L598 128.01 L599.1 127.76 L600.17 127.52 L601.21 127.29 L602.21 127.07 L603.19 126.87 L604.14 126.68 L605.08 126.53Z" fill="#e4f3da" fill-opacity="1" stroke="none"/>
<path d="M606 100.1 L606 164.7 M606 100.1 L638.3 156.05 M606 100.1 L661.95 132.4 M606 100.1 L670.6 100.1 M606 100.1 L661.95 67.8 M606 100.1 L638.3 44.15 M606 100.1 L606 35.5 M606 100.1 L573.7 44.15 M606 100.1 L550.05 67.8 M606 100.1 L541.4 100.1 M606 100.1 L550.05 132.4 M606 100.1 L573.7 156.05 " stroke="#b4b4b4" stroke-width="0.9" fill="none" opacity="0.75"/>
<circle cx="606" cy="100.1" r="32.3" stroke="#b4b4b4" stroke-width="0.9" fill="none" opacity="0.75"/>
<path d="M606 126.39 L606.91 126.29 L607.83 126.21 L608.74 126.16 L609.66 126.14 L610.59 126.14 L611.54 126.17 L612.51 126.21 L613.51 126.28 L614.53 126.36 L615.59 126.44 L616.68 126.54 L617.81 126.63 L618.98 126.71 L620.19 126.78 L621.44 126.84 L622.73 126.87 L624.06 126.87 L625.42 126.83 L626.82 126.75 L628.26 126.62 L629.72 126.44 L631.2 126.2 L632.71 125.89 L634.22 125.51 L635.75 125.06 L637.27 124.53 L638.79 123.92 L640.29 123.23 L641.77 122.45 L643.23 121.59 L644.64 120.65 L646.01 119.62 L647.33 118.5 L648.59 117.31 L649.78 116.03 L650.89 114.69 L651.92 113.27 L652.86 111.78 L653.71 110.24 L654.46 108.64 L655.09 107 L655.62 105.32 L656.04 103.6 L656.34 101.86 L656.52 100.1 L656.57 98.33 L656.51 96.57 L656.33 94.81 L656.02 93.07 L655.6 91.35 L655.06 89.67 L654.41 88.03 L653.66 86.43 L652.79 84.9 L651.83 83.42 L650.78 82.01 L649.64 80.67 L648.43 79.41 L647.13 78.23 L645.78 77.13 L644.37 76.12 L642.91 75.2 L641.41 74.37 L639.87 73.64 L638.31 72.98 L636.74 72.42 L635.15 71.95 L633.57 71.55 L631.98 71.24 L630.41 71.01 L628.86 70.84 L627.33 70.75 L625.82 70.71 L624.35 70.74 L622.91 70.81 L621.51 70.92 L620.16 71.08 L618.84 71.26 L617.57 71.47 L616.34 71.7 L615.15 71.94 L614 72.19 L612.9 72.44 L611.83 72.68 L610.79 72.91 L609.79 73.13 L608.81 73.33 L607.86 73.52 L606.92 73.67 L606 73.81 L605.09 73.91 L604.17 73.99 L603.26 74.04 L602.34 74.06 L601.41 74.06 L600.46 74.03 L599.49 73.99 L598.49 73.92 L597.47 73.84 L596.41 73.76 L595.32 73.66 L594.19 73.57 L593.02 73.49 L591.81 73.42 L590.56 73.36 L589.27 73.33 L587.94 73.33 L586.58 73.37 L585.18 73.45 L583.74 73.58 L582.28 73.76 L580.8 74 L579.29 74.31 L577.78 74.69 L576.25 75.14 L574.73 75.67 L573.21 76.28 L571.71 76.97 L570.23 77.75 L568.77 78.61 L567.36 79.55 L565.99 80.58 L564.67 81.7 L563.41 82.89 L562.22 84.17 L561.11 85.51 L560.08 86.93 L559.14 88.42 L558.29 89.96 L557.54 91.56 L556.91 93.2 L556.38 94.88 L555.96 96.6 L555.66 98.34 L555.48 100.1 L555.43 101.87 L555.49 103.63 L555.67 105.39 L555.98 107.13 L556.4 108.85 L556.94 110.53 L557.59 112.17 L558.34 113.77 L559.21 115.3 L560.17 116.78 L561.22 118.19 L562.36 119.53 L563.57 120.79 L564.87 121.97 L566.22 123.07 L567.63 124.08 L569.09 125 L570.59 125.83 L572.13 126.56 L573.69 127.22 L575.26 127.78 L576.85 128.25 L578.43 128.65 L580.02 128.96 L581.59 129.19 L583.14 129.36 L584.67 129.45 L586.18 129.49 L587.65 129.46 L589.09 129.39 L590.49 129.28 L591.84 129.12 L593.16 128.94 L594.43 128.73 L595.66 128.5 L596.85 128.26 L598 128.01 L599.1 127.76 L600.17 127.52 L601.21 127.29 L602.21 127.07 L603.19 126.87 L604.14 126.68 L605.08 126.53Z" fill="none" stroke="#1a8c1a" stroke-width="1.5"/>
<circle cx="606" cy="100.1" r="64.6" stroke="#111" stroke-width="1.3" fill="none"/>
<path d="M541.4 105.4 L670.9 95.6" stroke="#22b35a" stroke-width="1.7" stroke-dasharray="5 3" fill="none"/>
<circle cx="608.14" cy="120.47" r="2.3" fill="none" stroke="#1a8c1a" stroke-width="1.4"/>
<circle cx="623.75" cy="146.35" r="2.3" fill="none" stroke="#1a8c1a" stroke-width="1.4"/>
<circle cx="620.56" cy="120.14" r="2.3" fill="none" stroke="#1a8c1a" stroke-width="1.4"/>
<circle cx="637.77" cy="125.83" r="2.3" fill="none" stroke="#1a8c1a" stroke-width="1.4"/>
<circle cx="647.3" cy="118.49" r="2.3" fill="none" stroke="#1a8c1a" stroke-width="1.4"/>
<circle cx="658.17" cy="108.36" r="2.3" fill="none" stroke="#1a8c1a" stroke-width="1.4"/>
<circle cx="663.96" cy="94.01" r="2.3" fill="none" stroke="#1a8c1a" stroke-width="1.4"/>
<circle cx="652.29" cy="82.33" r="2.3" fill="none" stroke="#1a8c1a" stroke-width="1.4"/>
<circle cx="639.99" cy="75.41" r="2.3" fill="none" stroke="#1a8c1a" stroke-width="1.4"/>
<circle cx="628.34" cy="72.51" r="2.3" fill="none" stroke="#1a8c1a" stroke-width="1.4"/>
<circle cx="617.38" cy="74.55" r="2.3" fill="none" stroke="#1a8c1a" stroke-width="1.4"/>
<circle cx="610.38" cy="72.47" r="2.3" fill="none" stroke="#1a8c1a" stroke-width="1.4"/>
<circle cx="603.75" cy="78.68" r="2.3" fill="none" stroke="#1a8c1a" stroke-width="1.4"/>
<circle cx="594.84" cy="71.04" r="2.3" fill="none" stroke="#1a8c1a" stroke-width="1.4"/>
<circle cx="588.92" cy="76.59" r="2.3" fill="none" stroke="#1a8c1a" stroke-width="1.4"/>
<circle cx="569.98" cy="70.94" r="2.3" fill="none" stroke="#1a8c1a" stroke-width="1.4"/>
<circle cx="574.57" cy="86.11" r="2.3" fill="none" stroke="#1a8c1a" stroke-width="1.4"/>
<circle cx="569.94" cy="94.39" r="2.3" fill="none" stroke="#1a8c1a" stroke-width="1.4"/>
<circle cx="552.46" cy="105.73" r="2.3" fill="none" stroke="#1a8c1a" stroke-width="1.4"/>
<circle cx="560.77" cy="117.46" r="2.3" fill="none" stroke="#1a8c1a" stroke-width="1.4"/>
<circle cx="569.52" cy="126.61" r="2.3" fill="none" stroke="#1a8c1a" stroke-width="1.4"/>
<circle cx="579.56" cy="132.75" r="2.3" fill="none" stroke="#1a8c1a" stroke-width="1.4"/>
<circle cx="593.75" cy="127.61" r="2.3" fill="none" stroke="#1a8c1a" stroke-width="1.4"/>
<circle cx="602.31" cy="123.41" r="2.3" fill="none" stroke="#1a8c1a" stroke-width="1.4"/>
<text x="606.4" y="30.9" font-size="10" text-anchor="middle" fill="#000">180<tspan font-size="6.2" dy="-3.6">o</tspan></text>
<text x="606.3" y="177.7" font-size="10" text-anchor="middle" fill="#000">0<tspan font-size="6.2" dy="-3.6">o</tspan></text>
<text transform="translate(682.6 100.1) rotate(-90)" font-size="10" text-anchor="middle" fill="#000">90<tspan font-size="6.2" dy="-3.6">o</tspan></text>
<text transform="translate(535.8 101.1) rotate(-90)" font-size="10" text-anchor="middle" fill="#000">270<tspan font-size="6.2" dy="-3.6">o</tspan></text>
<text x="634.7" y="35.3" font-size="9.7" fill="#000">Δ<tspan font-size="6.5" dy="2" font-weight="bold">1</tspan><tspan dy="-2"> (meV)</tspan></text>
<text transform="translate(609.6 109) rotate(27)" font-size="9.7" text-anchor="middle" fill="#000">0.66</text>
<text transform="translate(594.3 141.3) rotate(27)" font-size="9.7" text-anchor="middle" fill="#000">0.69</text>
<text transform="translate(576.3 169.5) rotate(27)" font-size="9.7" text-anchor="middle" fill="#000">0.72</text>
<path d="M604.65 303.9 L604.65 368.5 M604.65 303.9 L636.95 359.85 M604.65 303.9 L660.6 336.2 M604.65 303.9 L669.25 303.9 M604.65 303.9 L660.6 271.6 M604.65 303.9 L636.95 247.95 M604.65 303.9 L604.65 239.3 M604.65 303.9 L572.35 247.95 M604.65 303.9 L548.7 271.6 M604.65 303.9 L540.05 303.9 M604.65 303.9 L548.7 336.2 M604.65 303.9 L572.35 359.85 " stroke="#b4b4b4" stroke-width="0.9" fill="none"/>
<circle cx="604.65" cy="303.9" r="32.3" stroke="#b4b4b4" stroke-width="0.9" fill="none"/>
<path d="M604.65 307.25 L604.76 307.06 L604.86 306.94 L604.96 306.89 L605.07 306.92 L605.2 307.01 L605.35 307.18 L605.52 307.41 L605.74 307.7 L606 308.05 L606.3 308.45 L606.67 308.89 L607.09 309.37 L607.57 309.89 L608.12 310.43 L608.74 310.98 L609.43 311.54 L610.18 312.11 L611.01 312.66 L611.91 313.19 L612.87 313.69 L613.89 314.16 L614.97 314.59 L616.1 314.96 L617.29 315.28 L618.51 315.53 L619.77 315.71 L621.05 315.82 L622.35 315.84 L623.66 315.78 L624.97 315.63 L626.28 315.4 L627.56 315.07 L628.82 314.66 L630.04 314.16 L631.21 313.57 L632.32 312.89 L633.37 312.14 L634.35 311.31 L635.25 310.4 L636.06 309.44 L636.77 308.41 L637.39 307.34 L637.9 306.22 L638.29 305.07 L638.58 303.9 L638.75 302.71 L638.8 301.51 L638.73 300.32 L638.55 299.14 L638.25 297.98 L637.84 296.85 L637.31 295.76 L636.69 294.71 L635.96 293.73 L635.13 292.8 L634.22 291.95 L633.23 291.18 L632.16 290.48 L631.03 289.87 L629.85 289.35 L628.62 288.92 L627.35 288.59 L626.05 288.35 L624.74 288.21 L623.41 288.16 L622.09 288.2 L620.78 288.33 L619.48 288.54 L618.21 288.83 L616.98 289.2 L615.79 289.64 L614.64 290.14 L613.55 290.7 L612.52 291.3 L611.55 291.94 L610.65 292.61 L609.82 293.31 L609.05 294.01 L608.36 294.72 L607.73 295.43 L607.18 296.12 L606.69 296.79 L606.26 297.43 L605.9 298.04 L605.58 298.6 L605.32 299.11 L605.11 299.57 L604.93 299.96 L604.78 300.29 L604.65 300.55 L604.54 300.74 L604.44 300.86 L604.34 300.91 L604.23 300.88 L604.1 300.79 L603.95 300.62 L603.78 300.39 L603.56 300.1 L603.3 299.75 L603 299.35 L602.63 298.91 L602.21 298.43 L601.73 297.91 L601.18 297.37 L600.56 296.82 L599.87 296.26 L599.12 295.69 L598.29 295.14 L597.39 294.61 L596.43 294.11 L595.41 293.64 L594.33 293.21 L593.2 292.84 L592.01 292.52 L590.79 292.27 L589.53 292.09 L588.25 291.98 L586.95 291.96 L585.64 292.02 L584.33 292.17 L583.02 292.4 L581.74 292.73 L580.48 293.14 L579.26 293.64 L578.09 294.23 L576.98 294.91 L575.93 295.66 L574.95 296.49 L574.05 297.4 L573.24 298.36 L572.53 299.39 L571.91 300.46 L571.4 301.58 L571.01 302.73 L570.72 303.9 L570.55 305.09 L570.5 306.29 L570.57 307.48 L570.75 308.66 L571.05 309.82 L571.46 310.95 L571.99 312.04 L572.61 313.09 L573.34 314.07 L574.17 315 L575.08 315.85 L576.07 316.62 L577.14 317.32 L578.27 317.93 L579.45 318.45 L580.68 318.88 L581.95 319.21 L583.25 319.45 L584.56 319.59 L585.89 319.64 L587.21 319.6 L588.52 319.47 L589.82 319.26 L591.09 318.97 L592.32 318.6 L593.51 318.16 L594.66 317.66 L595.75 317.1 L596.78 316.5 L597.75 315.86 L598.65 315.19 L599.48 314.49 L600.25 313.79 L600.94 313.08 L601.57 312.37 L602.12 311.68 L602.61 311.01 L603.04 310.37 L603.4 309.76 L603.72 309.2 L603.98 308.69 L604.19 308.23 L604.37 307.84 L604.52 307.51Z" fill="#c4dcf0" fill-opacity="1" stroke="none"/>
<path d="M604.65 303.9 L604.65 368.5 M604.65 303.9 L636.95 359.85 M604.65 303.9 L660.6 336.2 M604.65 303.9 L669.25 303.9 M604.65 303.9 L660.6 271.6 M604.65 303.9 L636.95 247.95 M604.65 303.9 L604.65 239.3 M604.65 303.9 L572.35 247.95 M604.65 303.9 L548.7 271.6 M604.65 303.9 L540.05 303.9 M604.65 303.9 L548.7 336.2 M604.65 303.9 L572.35 359.85 " stroke="#b4b4b4" stroke-width="0.9" fill="none" opacity="0.75"/>
<circle cx="604.65" cy="303.9" r="32.3" stroke="#b4b4b4" stroke-width="0.9" fill="none" opacity="0.75"/>
<path d="M604.65 307.25 L604.76 307.06 L604.86 306.94 L604.96 306.89 L605.07 306.92 L605.2 307.01 L605.35 307.18 L605.52 307.41 L605.74 307.7 L606 308.05 L606.3 308.45 L606.67 308.89 L607.09 309.37 L607.57 309.89 L608.12 310.43 L608.74 310.98 L609.43 311.54 L610.18 312.11 L611.01 312.66 L611.91 313.19 L612.87 313.69 L613.89 314.16 L614.97 314.59 L616.1 314.96 L617.29 315.28 L618.51 315.53 L619.77 315.71 L621.05 315.82 L622.35 315.84 L623.66 315.78 L624.97 315.63 L626.28 315.4 L627.56 315.07 L628.82 314.66 L630.04 314.16 L631.21 313.57 L632.32 312.89 L633.37 312.14 L634.35 311.31 L635.25 310.4 L636.06 309.44 L636.77 308.41 L637.39 307.34 L637.9 306.22 L638.29 305.07 L638.58 303.9 L638.75 302.71 L638.8 301.51 L638.73 300.32 L638.55 299.14 L638.25 297.98 L637.84 296.85 L637.31 295.76 L636.69 294.71 L635.96 293.73 L635.13 292.8 L634.22 291.95 L633.23 291.18 L632.16 290.48 L631.03 289.87 L629.85 289.35 L628.62 288.92 L627.35 288.59 L626.05 288.35 L624.74 288.21 L623.41 288.16 L622.09 288.2 L620.78 288.33 L619.48 288.54 L618.21 288.83 L616.98 289.2 L615.79 289.64 L614.64 290.14 L613.55 290.7 L612.52 291.3 L611.55 291.94 L610.65 292.61 L609.82 293.31 L609.05 294.01 L608.36 294.72 L607.73 295.43 L607.18 296.12 L606.69 296.79 L606.26 297.43 L605.9 298.04 L605.58 298.6 L605.32 299.11 L605.11 299.57 L604.93 299.96 L604.78 300.29 L604.65 300.55 L604.54 300.74 L604.44 300.86 L604.34 300.91 L604.23 300.88 L604.1 300.79 L603.95 300.62 L603.78 300.39 L603.56 300.1 L603.3 299.75 L603 299.35 L602.63 298.91 L602.21 298.43 L601.73 297.91 L601.18 297.37 L600.56 296.82 L599.87 296.26 L599.12 295.69 L598.29 295.14 L597.39 294.61 L596.43 294.11 L595.41 293.64 L594.33 293.21 L593.2 292.84 L592.01 292.52 L590.79 292.27 L589.53 292.09 L588.25 291.98 L586.95 291.96 L585.64 292.02 L584.33 292.17 L583.02 292.4 L581.74 292.73 L580.48 293.14 L579.26 293.64 L578.09 294.23 L576.98 294.91 L575.93 295.66 L574.95 296.49 L574.05 297.4 L573.24 298.36 L572.53 299.39 L571.91 300.46 L571.4 301.58 L571.01 302.73 L570.72 303.9 L570.55 305.09 L570.5 306.29 L570.57 307.48 L570.75 308.66 L571.05 309.82 L571.46 310.95 L571.99 312.04 L572.61 313.09 L573.34 314.07 L574.17 315 L575.08 315.85 L576.07 316.62 L577.14 317.32 L578.27 317.93 L579.45 318.45 L580.68 318.88 L581.95 319.21 L583.25 319.45 L584.56 319.59 L585.89 319.64 L587.21 319.6 L588.52 319.47 L589.82 319.26 L591.09 318.97 L592.32 318.6 L593.51 318.16 L594.66 317.66 L595.75 317.1 L596.78 316.5 L597.75 315.86 L598.65 315.19 L599.48 314.49 L600.25 313.79 L600.94 313.08 L601.57 312.37 L602.12 311.68 L602.61 311.01 L603.04 310.37 L603.4 309.76 L603.72 309.2 L603.98 308.69 L604.19 308.23 L604.37 307.84 L604.52 307.51Z" fill="none" stroke="#1414f0" stroke-width="1.5"/>
<circle cx="604.65" cy="303.9" r="64.6" stroke="#111" stroke-width="1.3" fill="none"/>
<path d="M540.1 309 L669.8 301.3" stroke="#1a1af0" stroke-width="1.7" stroke-dasharray="5 3" fill="none"/>
<circle cx="605.5" cy="311.98" r="2.3" fill="none" stroke="#1414f0" stroke-width="1.4"/>
<circle cx="612.39" cy="314.56" r="2.3" fill="none" stroke="#1414f0" stroke-width="1.4"/>
<circle cx="627.5" cy="314.08" r="2.3" fill="none" stroke="#1414f0" stroke-width="1.4"/>
<circle cx="640.89" cy="300.09" r="2.3" fill="none" stroke="#1414f0" stroke-width="1.4"/>
<circle cx="625.12" cy="289.03" r="2.3" fill="none" stroke="#1414f0" stroke-width="1.4"/>
<circle cx="611.06" cy="289.5" r="2.3" fill="none" stroke="#1414f0" stroke-width="1.4"/>
<circle cx="604.84" cy="305.68" r="2.3" fill="none" stroke="#1414f0" stroke-width="1.4"/>
<circle cx="601.28" cy="299.26" r="2.3" fill="none" stroke="#1414f0" stroke-width="1.4"/>
<circle cx="582.63" cy="294.1" r="2.3" fill="none" stroke="#1414f0" stroke-width="1.4"/>
<circle cx="567.88" cy="307.76" r="2.3" fill="none" stroke="#1414f0" stroke-width="1.4"/>
<circle cx="588.78" cy="315.43" r="2.3" fill="none" stroke="#1414f0" stroke-width="1.4"/>
<circle cx="600.03" cy="314.27" r="2.3" fill="none" stroke="#1414f0" stroke-width="1.4"/>
<text x="605.05" y="233.4" font-size="10" text-anchor="middle" fill="#000">180<tspan font-size="6.2" dy="-3.6">o</tspan></text>
<text x="604.95" y="381.5" font-size="10" text-anchor="middle" fill="#000">0<tspan font-size="6.2" dy="-3.6">o</tspan></text>
<text transform="translate(681.25 303.9) rotate(-90)" font-size="10" text-anchor="middle" fill="#000">90<tspan font-size="6.2" dy="-3.6">o</tspan></text>
<text transform="translate(534.45 304.9) rotate(-90)" font-size="10" text-anchor="middle" fill="#000">270<tspan font-size="6.2" dy="-3.6">o</tspan></text>
<text x="634.95" y="239.1" font-size="9.7" fill="#000">Δ<tspan font-size="6.5" dy="2" font-weight="bold">2</tspan><tspan dy="-2"> (meV)</tspan></text>
<text transform="translate(609.8 327.5) rotate(27)" font-size="9.7" text-anchor="middle" fill="#000">0.24</text>
<text transform="translate(593.6 345.2) rotate(27)" font-size="9.7" text-anchor="middle" fill="#000">0.36</text>
<text transform="translate(573.6 368.1) rotate(27)" font-size="9.7" text-anchor="middle" fill="#000">0.48</text>
<text x="49.2" y="444.7" font-size="10.4" font-weight="bold" fill="#f41c1c">B<tspan font-size="7.6" font-style="italic" font-weight="normal" dy="2.6">//</tspan></text>
<circle cx="89.7" cy="440.2" r="13.3" fill="none" stroke="#111" stroke-width="1.5"/>
<g transform="translate(89.7 440.2) rotate(-6)"><path d="M-11.6 -2.1 L3.6 -2.4 L3.6 -4.8 L13.8 0 L3.6 4.8 L3.6 2.4 L-11.6 2.1 Z" fill="url(#redarr)"/></g>
<circle cx="139.1" cy="440.2" r="13.3" fill="none" stroke="#111" stroke-width="1.5"/>
<g transform="translate(139.1 440.2) rotate(-36)"><path d="M-11.6 -2.1 L3.6 -2.4 L3.6 -4.8 L13.8 0 L3.6 4.8 L3.6 2.4 L-11.6 2.1 Z" fill="url(#redarr)"/></g>
<circle cx="188.6" cy="440.2" r="13.3" fill="none" stroke="#111" stroke-width="1.5"/>
<g transform="translate(188.6 440.2) rotate(-66)"><path d="M-11.6 -2.1 L3.6 -2.4 L3.6 -4.8 L13.8 0 L3.6 4.8 L3.6 2.4 L-11.6 2.1 Z" fill="url(#redarr)"/></g>
<circle cx="236.2" cy="440.2" r="13.3" fill="none" stroke="#111" stroke-width="1.5"/>
<g transform="translate(236.2 440.2) rotate(-96)"><path d="M-11.6 -2.1 L3.6 -2.4 L3.6 -4.8 L13.8 0 L3.6 4.8 L3.6 2.4 L-11.6 2.1 Z" fill="url(#redarr)"/></g>
<circle cx="282.6" cy="440.2" r="13.3" fill="none" stroke="#111" stroke-width="1.5"/>
<g transform="translate(282.6 440.2) rotate(-126)"><path d="M-11.6 -2.1 L3.6 -2.4 L3.6 -4.8 L13.8 0 L3.6 4.8 L3.6 2.4 L-11.6 2.1 Z" fill="url(#redarr)"/></g>
<circle cx="332.7" cy="440.2" r="13.3" fill="none" stroke="#111" stroke-width="1.5"/>
<g transform="translate(332.7 440.2) rotate(-156)"><path d="M-11.6 -2.1 L3.6 -2.4 L3.6 -4.8 L13.8 0 L3.6 4.8 L3.6 2.4 L-11.6 2.1 Z" fill="url(#redarr)"/></g>
<circle cx="378.6" cy="440.2" r="13.3" fill="none" stroke="#111" stroke-width="1.5"/>
<g transform="translate(378.6 440.2) rotate(-186)"><path d="M-11.6 -2.1 L3.6 -2.4 L3.6 -4.8 L13.8 0 L3.6 4.8 L3.6 2.4 L-11.6 2.1 Z" fill="url(#redarr)"/></g>
<circle cx="426.8" cy="440.2" r="13.3" fill="none" stroke="#111" stroke-width="1.5"/>
<g transform="translate(426.8 440.2) rotate(-216)"><path d="M-11.6 -2.1 L3.6 -2.4 L3.6 -4.8 L13.8 0 L3.6 4.8 L3.6 2.4 L-11.6 2.1 Z" fill="url(#redarr)"/></g>
<circle cx="474" cy="440.2" r="13.3" fill="none" stroke="#111" stroke-width="1.5"/>
<g transform="translate(474 440.2) rotate(-246)"><path d="M-11.6 -2.1 L3.6 -2.4 L3.6 -4.8 L13.8 0 L3.6 4.8 L3.6 2.4 L-11.6 2.1 Z" fill="url(#redarr)"/></g>
<circle cx="523.9" cy="440.2" r="13.3" fill="none" stroke="#111" stroke-width="1.5"/>
<g transform="translate(523.9 440.2) rotate(-276)"><path d="M-11.6 -2.1 L3.6 -2.4 L3.6 -4.8 L13.8 0 L3.6 4.8 L3.6 2.4 L-11.6 2.1 Z" fill="url(#redarr)"/></g>
<circle cx="570" cy="440.2" r="13.3" fill="none" stroke="#111" stroke-width="1.5"/>
<g transform="translate(570 440.2) rotate(-306)"><path d="M-11.6 -2.1 L3.6 -2.4 L3.6 -4.8 L13.8 0 L3.6 4.8 L3.6 2.4 L-11.6 2.1 Z" fill="url(#redarr)"/></g>
<circle cx="617.2" cy="440.2" r="13.3" fill="none" stroke="#111" stroke-width="1.5"/>
<g transform="translate(617.2 440.2) rotate(-336)"><path d="M-11.6 -2.1 L3.6 -2.4 L3.6 -4.8 L13.8 0 L3.6 4.8 L3.6 2.4 L-11.6 2.1 Z" fill="url(#redarr)"/></g>
<path d="M80.3 500.6 C86.92 499.3 106.72 495.47 120 492.8 C133.28 490.13 149.77 486.75 160 484.6 C170.23 482.45 174.27 480.97 181.4 479.9 C188.53 478.83 195.68 478.57 202.8 478.2 C209.92 477.83 216.98 477.7 224.1 477.7 C231.22 477.7 238.37 477.77 245.5 478.2 C252.63 478.63 259.25 479.13 266.9 480.3 C274.55 481.47 283.75 483.77 291.4 485.2 C299.05 486.63 305.68 487.93 312.8 488.9 C319.92 489.87 326.98 490.37 334.1 491 C341.22 491.63 349.08 492.42 355.5 492.7 C361.92 492.98 366.9 492.88 372.6 492.7 C378.3 492.52 384.9 492.17 389.7 491.6 C394.5 491.03 395.88 490.37 401.4 489.3 C406.92 488.23 415.68 486.45 422.8 485.2 C429.92 483.95 436.98 482.87 444.1 481.8 C451.22 480.73 458.37 479.77 465.5 478.8 C472.63 477.83 479.25 476.72 486.9 476 C494.55 475.28 503.75 474.6 511.4 474.5 C519.05 474.4 525.68 474.78 532.8 475.4 C539.92 476.02 546.98 477.2 554.1 478.2 C561.22 479.2 568.32 480.52 575.5 481.4 C582.68 482.28 589.88 482.53 597.2 483.5 C604.52 484.47 611.62 485.95 619.4 487.2 C627.18 488.45 639.82 490.37 643.9 491" stroke="#111" stroke-width="1.3" stroke-dasharray="4.2 3" fill="none"/>
<path d="M80.3 535.3 C86.92 536.85 106.72 541.83 120 544.6 C133.28 547.37 149.77 550.15 160 551.9 C170.23 553.65 174.27 554.2 181.4 555.1 C188.53 556 195.68 556.75 202.8 557.3 C209.92 557.85 216.98 558.3 224.1 558.4 C231.22 558.5 238.37 558.27 245.5 557.9 C252.63 557.53 259.25 557.2 266.9 556.2 C274.55 555.2 283.75 553.15 291.4 551.9 C299.05 550.65 305.68 549.77 312.8 548.7 C319.92 547.63 326.98 546.38 334.1 545.5 C341.22 544.62 348.37 543.75 355.5 543.4 C362.63 543.05 369.77 543.12 376.9 543.4 C384.03 543.68 390.65 544.22 398.3 545.1 C405.95 545.98 415.17 547.38 422.8 548.7 C430.43 550.02 436.98 551.68 444.1 553 C451.22 554.32 458.37 555.53 465.5 556.6 C472.63 557.67 479.25 558.57 486.9 559.4 C494.55 560.23 503.75 561.35 511.4 561.6 C519.05 561.85 525.68 561.27 532.8 560.9 C539.92 560.53 546.98 560.18 554.1 559.4 C561.22 558.62 568.32 557.35 575.5 556.2 C582.68 555.05 589.88 553.63 597.2 552.5 C604.52 551.37 611.62 550.65 619.4 549.4 C627.18 548.15 639.82 545.73 643.9 545" stroke="#111" stroke-width="1.3" stroke-dasharray="4.2 3" fill="none"/>
<path d="M69 507.5 C69.47 507.85 70.8 509.15 71.8 509.6 C72.8 510.05 73.93 509.92 75 510.2 C76.07 510.48 77.13 511.47 78.2 511.3 C79.27 511.13 80.33 509.73 81.4 509.2 C82.47 508.67 83.72 508.38 84.6 508.1 C85.48 507.82 86.1 507.15 86.7 507.5 C87.3 507.85 87.67 508.13 88.2 510.2 C88.73 512.27 89.33 516.5 89.9 519.9 C90.47 523.3 91.03 527.65 91.6 530.6 C92.17 533.55 92.72 537.97 93.3 537.6 C93.88 537.23 94.6 531.67 95.1 528.4 C95.6 525.13 95.85 520.68 96.3 518 C96.75 515.32 97.3 513.5 97.8 512.3 C98.3 511.1 98.8 511.2 99.3 510.8 C99.8 510.4 100.05 510.28 100.8 509.9 C101.55 509.52 102.82 508.67 103.8 508.5 C104.78 508.33 105.73 508.9 106.7 508.9 C107.67 508.9 108.63 508.38 109.6 508.5 C110.57 508.62 111.53 509.22 112.5 509.6 C113.47 509.98 114.52 510.5 115.4 510.8 C116.28 511.1 117.4 511.3 117.8 511.4" stroke="#0808ff" stroke-width="1.55" fill="none" stroke-linejoin="round"/>
<path d="M117.8 511.4 C118.18 511.05 119.23 509.85 120.1 509.3 C120.97 508.75 122.02 508.55 123 508.1 C123.98 507.65 125.02 507.03 126 506.6 C126.98 506.17 128.03 505.53 128.9 505.5 C129.77 505.47 130.52 506.02 131.2 506.4 C131.88 506.78 132.32 507.62 133 507.8 C133.68 507.98 134.72 507.15 135.3 507.5 C135.88 507.85 136.12 507.95 136.5 509.9 C136.88 511.85 137.22 515.68 137.6 519.2 C137.98 522.72 138.27 526.65 138.8 531 C139.33 535.35 140.12 545.3 140.8 545.3 C141.48 545.3 142.35 535.3 142.9 531 C143.45 526.7 143.72 523.3 144.1 519.5 C144.48 515.7 144.72 510.92 145.2 508.2 C145.68 505.48 146.32 504.43 147 503.2 C147.68 501.97 148.43 501.33 149.3 500.8 C150.17 500.27 151.32 500.05 152.2 500 C153.08 499.95 153.82 500.08 154.6 500.5 C155.38 500.92 156.23 502.08 156.9 502.5 C157.57 502.92 157.92 503.05 158.6 503 C159.28 502.95 160.22 502.37 161 502.2 C161.78 502.03 162.57 502.27 163.3 502 C164.03 501.73 165.05 500.83 165.4 500.6" stroke="#3412e0" stroke-width="1.55" fill="none" stroke-linejoin="round"/>
<path d="M164.7 510.2 C165.35 510.1 167.42 510.13 168.6 509.6 C169.78 509.07 170.73 508.5 171.8 507 C172.87 505.5 173.93 502.92 175 500.6 C176.07 498.28 177.2 495.05 178.2 493.1 C179.2 491.15 180.28 489.07 181 488.9 C181.72 488.73 181.9 487.65 182.5 492.1 C183.1 496.55 183.9 506.7 184.6 515.6 C185.3 524.5 185.98 538.2 186.7 545.5 C187.42 552.8 188.18 559.4 188.9 559.4 C189.62 559.4 190.3 553.15 191 545.5 C191.7 537.85 192.38 522.4 193.1 513.5 C193.82 504.6 194.58 496.67 195.3 492.1 C196.02 487.53 196.68 486.63 197.4 486.1 C198.12 485.57 198.7 487.2 199.6 488.9 C200.5 490.6 201.73 494.52 202.8 496.3 C203.87 498.08 204.93 498.95 206 499.6 C207.07 500.25 207.95 499.85 209.2 500.2 C210.45 500.55 212.78 501.45 213.5 501.7" stroke="#6010c8" stroke-width="1.55" fill="none" stroke-linejoin="round"/>
<path d="M213 509.6 C213.62 509.17 215.38 508.32 216.7 507 C218.02 505.68 219.67 503.65 220.9 501.7 C222.13 499.75 223.13 497.62 224.1 495.3 C225.07 492.98 225.98 490.3 226.7 487.8 C227.42 485.3 227.83 480.3 228.4 480.3 C228.97 480.3 229.45 481.92 230.1 487.8 C230.75 493.68 231.58 505.98 232.3 515.6 C233.02 525.22 233.7 538.3 234.4 545.5 C235.1 552.7 235.78 558.8 236.5 558.8 C237.22 558.8 237.98 553.05 238.7 545.5 C239.42 537.95 239.83 524.18 240.8 513.5 C241.77 502.82 243.53 488.25 244.5 481.4 C245.47 474.55 245.9 473.47 246.6 472.4 C247.3 471.33 247.98 473.15 248.7 475 C249.42 476.85 250.08 480.3 250.9 483.5 C251.72 486.7 252.53 491.52 253.6 494.2 C254.67 496.88 255.97 498.25 257.3 499.6 C258.63 500.95 260.88 501.85 261.6 502.3" stroke="#900898" stroke-width="1.55" fill="none" stroke-linejoin="round"/>
<path d="M260.9 510.9 C261.37 511.15 262.7 512.68 263.7 512.4 C264.7 512.12 265.83 510.98 266.9 509.2 C267.97 507.42 269.03 504.2 270.1 501.7 C271.17 499.2 272.25 495.98 273.3 494.2 C274.35 492.42 275.52 491 276.4 491 C277.28 491 277.88 488.68 278.6 494.2 C279.32 499.72 280 514.83 280.7 524.1 C281.4 533.37 282.08 543.8 282.8 549.8 C283.52 555.8 284.28 560.1 285 560.1 C285.72 560.1 286.4 557.57 287.1 549.8 C287.8 542.03 288.48 523.12 289.2 513.5 C289.92 503.88 290.75 496.73 291.4 492.1 C292.05 487.47 292.47 486.07 293.1 485.7 C293.73 485.33 294.42 487.95 295.2 489.9 C295.98 491.85 296.83 495.25 297.8 497.4 C298.77 499.55 299.93 501.37 301 502.8 C302.07 504.23 303.27 505.12 304.2 506 C305.13 506.88 306.2 507.75 306.6 508.1" stroke="#c0105a" stroke-width="1.55" fill="none" stroke-linejoin="round"/>
<path d="M306.6 508.1 C307.1 507.57 308.57 505.62 309.6 504.9 C310.63 504.18 311.57 503.98 312.8 503.8 C314.03 503.62 315.77 504.15 317 503.8 C318.23 503.45 319.3 502.65 320.2 501.7 C321.1 500.75 321.43 499.23 322.4 498.1 C323.37 496.97 325.12 495.2 326 494.9 C326.88 494.6 327.13 493.2 327.7 496.3 C328.27 499.4 328.78 506.72 329.4 513.5 C330.02 520.28 330.78 530.95 331.4 537 C332.02 543.05 332.53 549.8 333.1 549.8 C333.67 549.8 334.2 543.05 334.8 537 C335.4 530.95 336.03 519.03 336.7 513.5 C337.37 507.97 337.98 506.12 338.8 503.8 C339.62 501.48 340.6 501.02 341.6 499.6 C342.6 498.18 343.73 495.92 344.8 495.3 C345.87 494.68 346.93 495.55 348 495.9 C349.07 496.25 350.12 496.78 351.2 497.4 C352.28 498.02 353.42 498.82 354.5 499.6 C355.58 500.38 357.17 501.68 357.7 502.1" stroke="#e01030" stroke-width="1.55" fill="none" stroke-linejoin="round"/>
<path d="M356.6 515.6 C357.13 514.7 358.73 511.92 359.8 510.2 C360.87 508.48 361.93 506.25 363 505.3 C364.07 504.35 365.13 504.57 366.2 504.5 C367.27 504.43 368.5 504.4 369.4 504.9 C370.3 505.4 370.7 506.25 371.6 507.5 C372.5 508.75 373.92 510.52 374.8 512.4 C375.68 514.28 376.2 515.42 376.9 518.8 C377.6 522.18 378.35 528.32 379 532.7 C379.65 537.08 380.22 545.1 380.8 545.1 C381.38 545.1 381.9 537.97 382.5 532.7 C383.1 527.43 383.85 518.18 384.4 513.5 C384.95 508.82 385.37 506.2 385.8 504.6 C386.23 503 386.57 503.82 387 503.9 C387.43 503.98 387.87 505.83 388.4 505.1 C388.93 504.37 389.52 501.35 390.2 499.5 C390.88 497.65 391.7 495.23 392.5 494 C393.3 492.77 393.88 492.35 395 492.1 C396.12 491.85 397.95 492.33 399.2 492.5 C400.45 492.67 401.42 492.75 402.5 493.1 C403.58 493.45 405.17 494.35 405.7 494.6" stroke="#f03010" stroke-width="1.55" fill="none" stroke-linejoin="round"/>
<path d="M404.6 510.2 C405.13 509.95 406.73 509.4 407.8 508.7 C408.87 508 409.93 506.88 411 506 C412.07 505.12 413.13 503.58 414.2 503.4 C415.27 503.22 416.5 504.37 417.4 504.9 C418.3 505.43 418.88 506.53 419.6 506.6 C420.32 506.67 421 505.23 421.7 505.3 C422.4 505.37 423.2 505.28 423.8 507 C424.4 508.72 424.77 511.32 425.3 515.6 C425.83 519.88 426.43 527.53 427 532.7 C427.57 537.87 428.12 546.6 428.7 546.6 C429.28 546.6 429.92 538.22 430.5 532.7 C431.08 527.18 431.63 519.2 432.2 513.5 C432.77 507.8 433.33 501.37 433.9 498.5 C434.47 495.63 434.97 496.58 435.6 496.3 C436.23 496.02 436.92 497.15 437.7 496.8 C438.48 496.45 439.23 494.73 440.3 494.2 C441.37 493.67 442.92 493.48 444.1 493.6 C445.28 493.72 446.32 494.27 447.4 494.9 C448.48 495.53 449.53 496.7 450.6 497.4 C451.67 498.1 453.27 498.82 453.8 499.1" stroke="#d05010" stroke-width="1.55" fill="none" stroke-linejoin="round"/>
<path d="M452.7 512.8 C453.23 512.73 454.83 513.43 455.9 512.4 C456.97 511.37 458.03 508.38 459.1 506.6 C460.17 504.82 461.23 502.98 462.3 501.7 C463.37 500.42 464.53 499.97 465.5 498.9 C466.47 497.83 467.32 496.15 468.1 495.3 C468.88 494.45 469.57 492.55 470.2 493.8 C470.83 495.05 471.33 497.75 471.9 502.8 C472.47 507.85 472.98 516.27 473.6 524.1 C474.22 531.93 474.98 543.92 475.6 549.8 C476.22 555.68 476.73 559.4 477.3 559.4 C477.87 559.4 478.4 555.68 479 549.8 C479.6 543.92 480.22 533.02 480.9 524.1 C481.58 515.18 482.45 502.7 483.1 496.3 C483.75 489.9 484.17 487.4 484.8 485.7 C485.43 484 486.02 485.4 486.9 486.1 C487.78 486.8 489.03 488.55 490.1 489.9 C491.17 491.25 492.23 493.2 493.3 494.2 C494.37 495.2 495.15 495.08 496.5 495.9 C497.85 496.72 500.58 498.57 501.4 499.1" stroke="#a08810" stroke-width="1.55" fill="none" stroke-linejoin="round"/>
<path d="M500.7 502.8 C501.23 502.43 502.83 501.85 503.9 500.6 C504.97 499.35 506.03 497.43 507.1 495.3 C508.17 493.17 509.23 489.77 510.3 487.8 C511.37 485.83 512.53 484.38 513.5 483.5 C514.47 482.62 515.38 481.78 516.1 482.5 C516.82 483.22 517.17 482.63 517.8 487.8 C518.43 492.97 519.18 504.6 519.9 513.5 C520.62 522.4 521.38 533.72 522.1 541.2 C522.82 548.68 523.6 555 524.2 558.4 C524.8 561.8 525.17 562.32 525.7 561.6 C526.23 560.88 526.75 560.35 527.4 554.1 C528.05 547.85 528.88 533.73 529.6 524.1 C530.32 514.47 530.92 502.25 531.7 496.3 C532.48 490.35 533.42 489.47 534.3 488.4 C535.18 487.33 536.02 488.75 537 489.9 C537.98 491.05 539.12 494.05 540.2 495.3 C541.28 496.55 542.42 496.68 543.5 497.4 C544.58 498.12 545.72 498.88 546.7 499.6 C547.68 500.32 548.95 501.35 549.4 501.7" stroke="#70a010" stroke-width="1.55" fill="none" stroke-linejoin="round"/>
<path d="M548.8 513.5 C549.33 512.78 550.93 510.35 552 509.2 C553.07 508.05 554.13 507.67 555.2 506.6 C556.27 505.53 557.33 504.52 558.4 502.8 C559.47 501.08 560.53 498.52 561.6 496.3 C562.67 494.08 563.98 489.85 564.8 489.5 C565.62 489.15 565.85 489.13 566.5 494.2 C567.15 499.27 567.98 510.63 568.7 519.9 C569.42 529.17 570.17 542.68 570.8 549.8 C571.43 556.92 571.88 562.6 572.5 562.6 C573.12 562.6 573.82 557.63 574.5 549.8 C575.18 541.97 575.72 525.22 576.6 515.6 C577.48 505.98 578.83 495.48 579.8 492.1 C580.77 488.72 581.52 494.05 582.4 495.3 C583.28 496.55 583.93 498.35 585.1 499.6 C586.27 500.85 588.15 502.45 589.4 502.8 C590.65 503.15 591.7 502.17 592.6 501.7 C593.5 501.23 593.98 500.43 594.8 500 C595.62 499.57 597.05 499.25 597.5 499.1" stroke="#40c810" stroke-width="1.55" fill="none" stroke-linejoin="round"/>
<path d="M596.8 506.6 C597.43 506.33 599.42 505.45 600.6 505 C601.78 504.55 602.62 504.27 603.9 503.9 C605.18 503.53 607 502.62 608.3 502.8 C609.6 502.98 610.65 504.45 611.7 505 C612.75 505.55 613.87 504.8 614.6 506.1 C615.33 507.4 615.58 509.1 616.1 512.8 C616.62 516.5 617.15 523.48 617.7 528.3 C618.25 533.12 618.85 538.55 619.4 541.7 C619.95 544.85 620.47 547.58 621 547.2 C621.53 546.82 622.05 544.4 622.6 539.4 C623.15 534.4 623.72 523.12 624.3 517.2 C624.88 511.28 625.5 506.48 626.1 503.9 C626.7 501.32 627.15 501.7 627.9 501.7 C628.65 501.7 629.6 502.98 630.6 503.9 C631.6 504.82 632.8 506.57 633.9 507.2 C635 507.83 636.08 507.88 637.2 507.7 C638.32 507.52 639.47 506.55 640.6 506.1 C641.73 505.65 643.15 505.45 644 505 C644.85 504.55 645.42 503.67 645.7 503.4" stroke="#20f020" stroke-width="1.55" fill="none" stroke-linejoin="round"/>
<rect x="40.6" y="460.4" width="633.3" height="122.9" fill="none" stroke="#222" stroke-width="1.3"/>
<path d="M40.6 583.3 V585 M673.9 583.3 V585" stroke="#222" stroke-width="1.3"/>
<path d="M38.2 575 H40.6" stroke="#222" stroke-width="1.1"/>
<path d="M38.2 560.86 H40.6" stroke="#222" stroke-width="1.1"/>
<path d="M38.2 546.72 H40.6" stroke="#222" stroke-width="1.1"/>
<path d="M38.2 532.58 H40.6" stroke="#222" stroke-width="1.1"/>
<path d="M38.2 518.44 H40.6" stroke="#222" stroke-width="1.1"/>
<path d="M38.2 504.3 H40.6" stroke="#222" stroke-width="1.1"/>
<path d="M38.2 490.16 H40.6" stroke="#222" stroke-width="1.1"/>
<path d="M38.2 476.02 H40.6" stroke="#222" stroke-width="1.1"/>
<text x="35.8" y="507.8" font-size="10" text-anchor="end" fill="#000" >1.0</text>
<text x="34.5" y="578.6" font-size="10" text-anchor="end" fill="#000" >0</text>
<text transform="translate(13.8 516) rotate(-90)" font-size="10.1" text-anchor="middle" fill="#000">d<tspan font-style="italic">I</tspan>/d<tspan font-style="italic">V</tspan> (arb. units)</text>
<text x="54.6" y="475.3" font-size="10" font-weight="bold" fill="#000">B<tspan font-size="7.3" font-style="italic" font-weight="normal" dy="2.2">//</tspan><tspan dy="-2.2">=1.5 T</tspan></text>
<text x="48.5" y="576" font-size="10" fill="#000">θ (</text><text x="60.4" y="574" font-size="7.2" fill="#000">°</text><text x="70" y="576" font-size="10" fill="#000">)=</text>
<text x="93.2" y="576" font-size="10" text-anchor="middle" fill="#000" >6</text>
<text x="141.3" y="576" font-size="10" text-anchor="middle" fill="#000" >36</text>
<text x="188.9" y="576" font-size="10" text-anchor="middle" fill="#000" >66</text>
<text x="236.5" y="576" font-size="10" text-anchor="middle" fill="#000" >96</text>
<text x="285" y="576" font-size="10" text-anchor="middle" fill="#000" >126</text>
<text x="333.1" y="576" font-size="10" text-anchor="middle" fill="#000" >156</text>
<text x="380.8" y="576" font-size="10" text-anchor="middle" fill="#000" >186</text>
<text x="428.7" y="576" font-size="10" text-anchor="middle" fill="#000" >216</text>
<text x="477.3" y="576" font-size="10" text-anchor="middle" fill="#000" >246</text>
<text x="525.3" y="576" font-size="10" text-anchor="middle" fill="#000" >276</text>
<text x="572.7" y="576" font-size="10" text-anchor="middle" fill="#000" >306</text>
<text x="621" y="576" font-size="10" text-anchor="middle" fill="#000" >336</text>
</svg></body></html>
